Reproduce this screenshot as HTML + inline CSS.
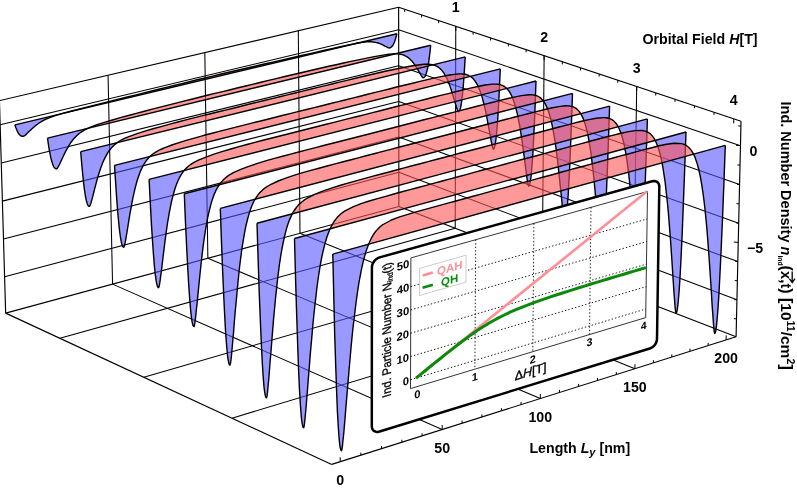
<!DOCTYPE html><html><head><meta charset="utf-8"><style>html,body{margin:0;padding:0;background:#fff}svg{will-change:transform}svg text{font-family:"Liberation Sans",sans-serif}</style></head><body><svg width="797" height="489" viewBox="0 0 797 489" style="display:block">
<rect width="797" height="489" fill="#fff"/>
<g stroke-linecap="butt"><line x1="-0.56" y1="100.64" x2="398.63" y2="7.29" stroke="#000" stroke-width="1.15" />
<line x1="398.63" y1="7.29" x2="741.02" y2="121.24" stroke="#000" stroke-width="1.15" />
<line x1="5.66" y1="313.12" x2="-0.56" y2="100.64" stroke="#000" stroke-width="1.15" />
<line x1="398.87" y1="206.46" x2="398.63" y2="7.29" stroke="#000" stroke-width="1.15" />
<line x1="736.09" y1="336.73" x2="741.02" y2="121.24" stroke="#000" stroke-width="1.15" />
<line x1="5.66" y1="313.12" x2="398.87" y2="206.46" stroke="#000" stroke-width="1.15" />
<line x1="398.87" y1="206.46" x2="736.09" y2="336.73" stroke="#000" stroke-width="1.15" />
<line x1="5.66" y1="313.12" x2="331.69" y2="464.41" stroke="#000" stroke-width="1.15" />
<line x1="331.69" y1="464.41" x2="736.09" y2="336.73" stroke="#000" stroke-width="1.15" />
<line x1="112.56" y1="284.12" x2="108.05" y2="75.25" stroke="#000" stroke-width="1.05" />
<line x1="112.56" y1="284.12" x2="442.16" y2="429.53" stroke="#000" stroke-width="1.05" />
<line x1="207.86" y1="258.27" x2="204.82" y2="52.62" stroke="#000" stroke-width="1.05" />
<line x1="207.86" y1="258.27" x2="540.32" y2="398.54" stroke="#000" stroke-width="1.05" />
<line x1="299.98" y1="233.28" x2="298.32" y2="30.75" stroke="#000" stroke-width="1.05" />
<line x1="299.98" y1="233.28" x2="634.89" y2="368.68" stroke="#000" stroke-width="1.05" />
<line x1="455.21" y1="228.22" x2="455.77" y2="26.31" stroke="#000" stroke-width="1.05" />
<line x1="59.82" y1="338.25" x2="455.21" y2="228.22" stroke="#000" stroke-width="1.05" />
<line x1="542.27" y1="261.86" x2="544.13" y2="55.71" stroke="#000" stroke-width="1.05" />
<line x1="143.77" y1="377.21" x2="542.27" y2="261.86" stroke="#000" stroke-width="1.05" />
<line x1="633.45" y1="297.08" x2="636.71" y2="86.53" stroke="#000" stroke-width="1.05" />
<line x1="231.99" y1="418.14" x2="633.45" y2="297.08" stroke="#000" stroke-width="1.05" />
<line x1="0.15" y1="124.70" x2="398.66" y2="29.82" stroke="#000" stroke-width="1.05" />
<line x1="398.66" y1="29.82" x2="740.46" y2="145.64" stroke="#000" stroke-width="1.05" />
<line x1="1.27" y1="163.02" x2="398.70" y2="65.72" stroke="#000" stroke-width="1.05" />
<line x1="398.70" y1="65.72" x2="739.57" y2="184.51" stroke="#000" stroke-width="1.05" />
<line x1="2.38" y1="201.13" x2="398.75" y2="101.43" stroke="#000" stroke-width="1.05" />
<line x1="398.75" y1="101.43" x2="738.69" y2="223.16" stroke="#000" stroke-width="1.05" />
<line x1="3.49" y1="239.04" x2="398.79" y2="136.97" stroke="#000" stroke-width="1.05" />
<line x1="398.79" y1="136.97" x2="737.81" y2="261.61" stroke="#000" stroke-width="1.05" />
<line x1="4.59" y1="276.74" x2="398.83" y2="172.33" stroke="#000" stroke-width="1.05" />
<line x1="398.83" y1="172.33" x2="736.93" y2="299.84" stroke="#000" stroke-width="1.05" /></g>
<g><path d="M14.9,124.9 15.6,124.7 16.4,124.6 17.1,124.4 17.8,124.2 18.6,124.0 19.3,123.9 20.0,123.7 20.5,123.6 21.0,123.5 21.4,123.4 21.9,123.2 22.4,123.1 22.9,123.0 23.3,122.9 23.8,122.8 24.3,122.7 24.7,122.6 25.2,122.5 25.7,122.3 26.2,122.2 27.2,122.0 28.2,121.7 29.2,121.5 30.2,121.3 31.2,121.0 32.3,120.8 33.3,120.5 34.3,120.3 35.3,120.0 36.3,119.8 37.3,119.6 38.4,119.3 39.4,119.1 40.4,118.8 41.4,118.6 42.4,118.4 43.4,118.1 44.4,117.9 45.5,117.6 46.5,117.4 47.5,117.1 48.5,116.9 49.5,116.7 50.5,116.4 51.5,116.2 52.5,115.9 53.5,115.7 54.6,115.5 55.6,115.2 56.6,115.0 57.6,114.7 58.6,114.5 59.6,114.2 60.6,114.0 61.6,113.8 62.6,113.5 63.6,113.3 71.7,111.4 79.7,109.5 87.7,107.5 95.6,105.6 103.6,103.7 111.5,101.9 119.4,100.0 127.3,98.1 135.1,96.2 143.0,94.3 150.8,92.5 158.6,90.6 166.3,88.8 174.1,86.9 181.8,85.1 189.5,83.2 197.2,81.4 204.9,79.6 212.5,77.7 220.1,75.9 227.7,74.1 235.3,72.3 242.9,70.5 250.4,68.7 257.9,66.9 265.4,65.1 272.9,63.3 280.3,61.5 287.8,59.8 295.2,58.0 302.6,56.2 310.0,54.5 317.3,52.7 324.6,51.0 332.0,49.2 339.2,47.5 346.5,45.7 353.8,44.0 354.7,43.8 355.6,43.6 356.5,43.4 357.4,43.2 358.3,42.9 359.2,42.7 360.1,42.5 361.0,42.3 361.9,42.1 362.8,41.9 363.7,41.6 364.6,41.4 365.5,41.2 366.4,41.0 367.3,40.8 368.2,40.6 369.1,40.4 370.0,40.1 370.9,39.9 371.8,39.7 372.7,39.5 373.6,39.3 374.5,39.1 375.4,38.9 376.3,38.6 377.2,38.4 378.1,38.2 379.0,38.0 379.9,37.8 380.8,37.6 381.7,37.4 382.6,37.1 383.5,36.9 384.4,36.7 385.3,36.5 386.2,36.3 387.1,36.1 387.5,36.0 387.9,35.9 388.3,35.8 388.7,35.7 389.1,35.6 389.6,35.5 390.0,35.4 390.4,35.3 390.8,35.2 391.2,35.1 391.6,35.0 392.0,34.9 392.4,34.8 393.1,34.6 393.7,34.5 394.3,34.3 395.0,34.2 395.6,34.0 396.3,33.9 396.9,33.7 L396.9,33.7 396.3,36.3 395.6,38.5 395.0,40.5 394.4,42.2 393.7,43.6 393.1,44.8 392.5,45.8 392.0,46.3 391.6,46.8 391.2,47.1 390.8,47.4 390.4,47.6 390.0,47.8 389.6,47.9 389.2,48.0 388.7,47.9 388.3,47.7 387.9,47.6 387.5,47.4 387.1,47.2 386.2,46.7 385.3,46.3 384.4,45.8 383.5,45.3 382.6,44.9 381.7,44.4 380.8,44.0 379.9,43.7 379.0,43.3 378.1,43.0 377.2,42.8 376.3,42.6 375.4,42.4 374.5,42.2 373.6,42.1 372.7,42.0 371.8,41.9 370.9,41.8 370.0,41.8 369.1,41.8 368.2,41.8 367.3,41.9 366.4,41.9 365.5,42.0 364.6,42.1 363.7,42.2 362.8,42.3 361.9,42.4 361.0,42.6 360.1,42.7 359.2,42.8 358.3,43.0 357.4,43.2 356.5,43.4 355.6,43.6 354.7,43.8 353.8,44.0 346.5,45.7 339.2,47.5 332.0,49.2 324.6,51.0 317.3,52.7 310.0,54.5 302.6,56.2 295.2,58.0 287.8,59.8 280.3,61.5 272.9,63.3 265.4,65.1 257.9,66.9 250.4,68.7 242.9,70.5 235.3,72.3 227.7,74.1 220.1,75.9 212.5,77.7 204.9,79.6 197.2,81.4 189.5,83.2 181.8,85.1 174.1,86.9 166.3,88.8 158.6,90.6 150.8,92.5 143.0,94.3 135.1,96.2 127.3,98.1 119.4,100.0 111.5,101.9 103.6,103.7 95.6,105.6 87.7,107.5 79.7,109.5 71.7,111.4 63.6,113.3 62.6,113.5 61.6,113.8 60.6,114.0 59.6,114.3 58.6,114.6 57.6,114.9 56.6,115.2 55.6,115.5 54.6,115.8 53.6,116.2 52.5,116.5 51.5,116.9 50.5,117.3 49.5,117.6 48.5,118.1 47.5,118.5 46.5,118.9 45.5,119.4 44.5,119.9 43.5,120.4 42.5,121.0 41.5,121.5 40.5,122.1 39.5,122.8 38.5,123.5 37.5,124.2 36.5,124.9 35.5,125.7 34.5,126.5 33.5,127.4 32.5,128.3 31.5,129.2 30.5,130.2 29.5,131.1 28.5,132.1 27.5,133.1 26.5,134.0 26.0,134.5 25.6,134.9 25.1,135.3 24.6,135.6 24.2,135.9 23.7,136.1 23.2,136.2 22.7,136.3 22.3,136.2 21.8,136.2 21.3,136.0 20.8,135.8 20.4,135.4 19.6,134.7 18.8,133.8 18.1,132.6 17.3,131.1 16.5,129.3 15.7,127.3 14.9,124.9 Z" fill="rgb(85,85,255)" fill-opacity="0.6" stroke="none"/><path d="M14.9,124.9 15.6,124.7 16.4,124.6 17.1,124.4 17.8,124.2 18.6,124.0 19.3,123.9 20.0,123.7 20.5,123.6 21.0,123.5 21.4,123.4 21.9,123.2 22.4,123.1 22.9,123.0 23.3,122.9 23.8,122.8 24.3,122.7 24.7,122.6 25.2,122.5 25.7,122.3 26.2,122.2 27.2,122.0 28.2,121.7 29.2,121.5 30.2,121.3 31.2,121.0 32.3,120.8 33.3,120.5 34.3,120.3 35.3,120.0 36.3,119.8 37.3,119.6 38.4,119.3 39.4,119.1 40.4,118.8 41.4,118.6 42.4,118.4 43.4,118.1 44.4,117.9 45.5,117.6 46.5,117.4 47.5,117.1 48.5,116.9 49.5,116.7 50.5,116.4 51.5,116.2 52.5,115.9 53.5,115.7 54.6,115.5 55.6,115.2 56.6,115.0 57.6,114.7 58.6,114.5 59.6,114.2 60.6,114.0 61.6,113.8 62.6,113.5 63.6,113.3 71.7,111.4 79.7,109.5 87.7,107.5 95.6,105.6 103.6,103.7 111.5,101.9 119.4,100.0 127.3,98.1 135.1,96.2 143.0,94.3 150.8,92.5 158.6,90.6 166.3,88.8 174.1,86.9 181.8,85.1 189.5,83.2 197.2,81.4 204.9,79.6 212.5,77.7 220.1,75.9 227.7,74.1 235.3,72.3 242.9,70.5 250.4,68.7 257.9,66.9 265.4,65.1 272.9,63.3 280.3,61.5 287.8,59.8 295.2,58.0 302.6,56.2 310.0,54.5 317.3,52.7 324.6,51.0 332.0,49.2 339.2,47.5 346.5,45.7 353.8,44.0 354.7,43.8 355.6,43.6 356.5,43.4 357.4,43.2 358.3,42.9 359.2,42.7 360.1,42.5 361.0,42.3 361.9,42.1 362.8,41.9 363.7,41.6 364.6,41.4 365.5,41.2 366.4,41.0 367.3,40.8 368.2,40.6 369.1,40.4 370.0,40.1 370.9,39.9 371.8,39.7 372.7,39.5 373.6,39.3 374.5,39.1 375.4,38.9 376.3,38.6 377.2,38.4 378.1,38.2 379.0,38.0 379.9,37.8 380.8,37.6 381.7,37.4 382.6,37.1 383.5,36.9 384.4,36.7 385.3,36.5 386.2,36.3 387.1,36.1 387.5,36.0 387.9,35.9 388.3,35.8 388.7,35.7 389.1,35.6 389.6,35.5 390.0,35.4 390.4,35.3 390.8,35.2 391.2,35.1 391.6,35.0 392.0,34.9 392.4,34.8 393.1,34.6 393.7,34.5 394.3,34.3 395.0,34.2 395.6,34.0 396.3,33.9 396.9,33.7 L396.9,33.7 396.3,33.9 395.6,34.0 395.0,34.2 394.3,34.3 393.7,34.5 393.1,34.6 392.4,34.8 392.0,34.9 391.6,35.0 391.2,35.1 390.8,35.2 390.4,35.3 390.0,35.4 389.6,35.5 389.1,35.6 388.7,35.7 388.3,35.8 387.9,35.9 387.5,36.0 387.1,36.1 386.2,36.3 385.3,36.5 384.4,36.7 383.5,36.9 382.6,37.1 381.7,37.4 380.8,37.6 379.9,37.8 379.0,38.0 378.1,38.2 377.2,38.4 376.3,38.6 375.4,38.9 374.5,39.1 373.6,39.3 372.7,39.5 371.8,39.7 370.9,39.9 370.0,40.1 369.1,40.4 368.2,40.6 367.3,40.8 366.4,41.0 365.5,41.2 364.6,41.4 363.7,41.6 362.8,41.9 361.9,42.1 361.0,42.3 360.1,42.5 359.2,42.7 358.3,42.9 357.4,43.2 356.5,43.3 355.6,43.5 354.7,43.7 353.8,43.9 346.5,45.4 339.2,47.0 332.0,48.6 324.6,50.3 317.3,51.9 310.0,53.6 302.6,55.3 295.2,57.0 287.8,58.7 280.3,60.4 272.9,62.1 265.4,63.8 257.9,65.5 250.4,67.3 242.9,69.0 235.3,70.8 227.7,72.5 220.1,74.3 212.5,76.1 204.9,78.0 197.2,79.8 189.5,81.7 181.8,83.6 174.1,85.5 166.3,87.4 158.6,89.3 150.8,91.2 143.0,93.1 135.1,95.1 127.3,97.0 119.4,99.0 111.5,100.9 103.6,102.9 95.6,104.9 87.6,106.9 79.7,108.9 71.6,111.0 63.6,113.1 62.6,113.4 61.6,113.7 60.6,114.0 59.6,114.2 58.6,114.5 57.6,114.7 56.6,115.0 55.6,115.2 54.6,115.5 53.5,115.7 52.5,115.9 51.5,116.2 50.5,116.4 49.5,116.7 48.5,116.9 47.5,117.1 46.5,117.4 45.5,117.6 44.4,117.9 43.4,118.1 42.4,118.4 41.4,118.6 40.4,118.8 39.4,119.1 38.4,119.3 37.3,119.6 36.3,119.8 35.3,120.0 34.3,120.3 33.3,120.5 32.3,120.8 31.2,121.0 30.2,121.3 29.2,121.5 28.2,121.7 27.2,122.0 26.2,122.2 25.7,122.3 25.2,122.5 24.7,122.6 24.3,122.7 23.8,122.8 23.3,122.9 22.9,123.0 22.4,123.1 21.9,123.2 21.4,123.4 21.0,123.5 20.5,123.6 20.0,123.7 19.3,123.9 18.6,124.0 17.8,124.2 17.1,124.4 16.4,124.6 15.6,124.7 14.9,124.9 Z" fill="rgb(255,85,85)" fill-opacity="0.6" stroke="none"/><path d="M14.9,124.9 L15.7,127.3 L16.5,129.3 L17.3,131.1 L18.1,132.6 L18.8,133.8 L19.6,134.7 L20.4,135.4 L20.8,135.8 L21.3,136.0 L21.8,136.2 L22.3,136.2 L22.7,136.3 L23.2,136.2 L23.7,136.1 L24.2,135.9 L24.6,135.6 L25.1,135.3 L25.6,134.9 L26.0,134.5 L26.5,134.0 L27.5,133.1 L28.5,132.1 L29.5,131.1 L30.5,130.2 L31.5,129.2 L32.5,128.3 L33.5,127.4 L34.5,126.5 L35.5,125.7 L36.5,124.9 L37.5,124.2 L38.5,123.5 L39.5,122.8 L40.5,122.1 L41.5,121.5 L42.5,121.0 L43.5,120.4 L44.5,119.9 L45.5,119.4 L46.5,118.9 L47.5,118.5 L48.5,118.1 L49.5,117.6 L50.5,117.3 L51.5,116.9 L52.5,116.5 L53.6,116.2 L54.6,115.8 L55.6,115.5 L56.6,115.2 L57.6,114.9 L58.6,114.6 L59.6,114.3 L60.6,114.0 L61.6,113.7 L62.6,113.4 L63.6,113.1 L71.6,111.0 L79.7,108.9 L87.6,106.9 L95.6,104.9 L103.6,102.9 L111.5,100.9 L119.4,99.0 L127.3,97.0 L135.1,95.1 L143.0,93.1 L150.8,91.2 L158.6,89.3 L166.3,87.4 L174.1,85.5 L181.8,83.6 L189.5,81.7 L197.2,79.8 L204.9,78.0 L212.5,76.1 L220.1,74.3 L227.7,72.5 L235.3,70.8 L242.9,69.0 L250.4,67.3 L257.9,65.5 L265.4,63.8 L272.9,62.1 L280.3,60.4 L287.8,58.7 L295.2,57.0 L302.6,55.3 L310.0,53.6 L317.3,51.9 L324.6,50.3 L332.0,48.6 L339.2,47.0 L346.5,45.4 L353.8,43.9 L354.7,43.7 L355.6,43.5 L356.5,43.3 L357.4,43.2 L358.3,43.0 L359.2,42.8 L360.1,42.7 L361.0,42.6 L361.9,42.4 L362.8,42.3 L363.7,42.2 L364.6,42.1 L365.5,42.0 L366.4,41.9 L367.3,41.9 L368.2,41.8 L369.1,41.8 L370.0,41.8 L370.9,41.8 L371.8,41.9 L372.7,42.0 L373.6,42.1 L374.5,42.2 L375.4,42.4 L376.3,42.6 L377.2,42.8 L378.1,43.0 L379.0,43.3 L379.9,43.7 L380.8,44.0 L381.7,44.4 L382.6,44.9 L383.5,45.3 L384.4,45.8 L385.3,46.3 L386.2,46.7 L387.1,47.2 L387.5,47.4 L387.9,47.6 L388.3,47.7 L388.7,47.9 L389.2,48.0 L389.6,47.9 L390.0,47.8 L390.4,47.6 L390.8,47.4 L391.2,47.1 L391.6,46.8 L392.0,46.3 L392.5,45.8 L393.1,44.8 L393.7,43.6 L394.4,42.2 L395.0,40.5 L395.6,38.5 L396.3,36.3 L396.9,33.7" fill="none" stroke="#000" stroke-width="1.4" stroke-linejoin="round"/><path d="M14.9,124.9 L396.9,33.7" fill="none" stroke="#000" stroke-width="1.4"/></g>
<g><path d="M47.5,138.1 48.2,138.0 48.9,137.8 49.7,137.6 50.4,137.4 51.1,137.3 51.9,137.1 52.6,136.9 53.1,136.8 53.6,136.7 54.0,136.6 54.5,136.4 55.0,136.3 55.4,136.2 55.9,136.1 56.4,136.0 56.9,135.9 57.3,135.8 57.8,135.6 58.3,135.5 58.8,135.4 59.8,135.2 60.8,134.9 61.8,134.7 62.8,134.4 63.9,134.2 64.9,133.9 65.9,133.7 66.9,133.4 68.0,133.2 69.0,132.9 70.0,132.7 71.0,132.4 72.0,132.2 73.0,131.9 74.1,131.7 75.1,131.5 76.1,131.2 77.1,131.0 78.1,130.7 79.1,130.5 80.2,130.2 81.2,130.0 82.2,129.7 83.2,129.5 84.2,129.2 85.2,129.0 86.3,128.7 87.3,128.5 88.3,128.3 89.3,128.0 90.3,127.8 91.3,127.5 92.3,127.3 93.3,127.0 94.3,126.8 95.4,126.5 96.4,126.3 104.4,124.3 112.5,122.4 120.5,120.4 128.5,118.5 136.5,116.6 144.4,114.6 152.4,112.7 160.3,110.8 168.2,108.9 176.0,107.0 183.9,105.1 191.7,103.2 199.5,101.3 207.2,99.4 215.0,97.5 222.7,95.7 230.4,93.8 238.1,91.9 245.8,90.1 253.4,88.2 261.1,86.4 268.7,84.5 276.3,82.7 283.8,80.8 291.4,79.0 298.9,77.2 306.4,75.4 313.8,73.6 321.3,71.8 328.7,70.0 336.2,68.2 343.5,66.4 350.9,64.6 358.3,62.8 365.6,61.0 372.9,59.2 380.2,57.5 387.5,55.7 388.4,55.5 389.3,55.3 390.2,55.1 391.1,54.8 392.0,54.6 392.9,54.4 393.8,54.2 394.8,54.0 395.7,53.7 396.6,53.5 397.5,53.3 398.4,53.1 399.3,52.9 400.2,52.6 401.1,52.4 402.0,52.2 402.9,52.0 403.8,51.8 404.7,51.5 405.6,51.3 406.5,51.1 407.4,50.9 408.3,50.7 409.2,50.5 410.1,50.2 411.0,50.0 411.9,49.8 412.8,49.6 413.7,49.4 414.6,49.1 415.5,48.9 416.4,48.7 417.3,48.5 418.2,48.3 419.1,48.1 420.0,47.8 420.9,47.6 421.3,47.5 421.7,47.4 422.1,47.3 422.5,47.2 423.0,47.1 423.4,47.0 423.8,46.9 424.2,46.8 424.6,46.7 425.0,46.6 425.4,46.5 425.8,46.4 426.3,46.3 426.9,46.2 427.5,46.0 428.2,45.9 428.8,45.7 429.5,45.5 430.1,45.4 430.7,45.2 L430.7,45.2 430.1,51.3 429.4,56.6 428.8,61.3 428.2,65.2 427.5,68.6 426.9,71.3 426.2,73.5 425.8,74.7 425.4,75.6 425.0,76.3 424.6,76.9 424.2,77.3 423.8,77.6 423.4,77.7 422.9,77.6 422.5,77.3 422.1,76.8 421.7,76.2 421.3,75.6 420.9,74.9 420.0,73.4 419.1,71.9 418.2,70.4 417.3,68.8 416.4,67.4 415.5,66.0 414.6,64.6 413.7,63.4 412.8,62.2 411.9,61.1 411.0,60.2 410.1,59.3 409.2,58.5 408.3,57.7 407.4,57.1 406.5,56.5 405.6,56.0 404.7,55.6 403.8,55.2 402.9,54.9 402.0,54.6 401.1,54.4 400.2,54.2 399.3,54.1 398.4,54.0 397.5,53.9 396.6,53.8 395.7,53.8 394.8,54.0 393.8,54.2 392.9,54.4 392.0,54.6 391.1,54.8 390.2,55.1 389.3,55.3 388.4,55.5 387.5,55.7 380.2,57.5 372.9,59.2 365.6,61.0 358.3,62.8 350.9,64.6 343.5,66.4 336.2,68.2 328.7,70.0 321.3,71.8 313.8,73.6 306.4,75.4 298.9,77.2 291.4,79.0 283.8,80.8 276.3,82.7 268.7,84.5 261.1,86.4 253.4,88.2 245.8,90.1 238.1,91.9 230.4,93.8 222.7,95.7 215.0,97.5 207.2,99.4 199.5,101.3 191.7,103.2 183.9,105.1 176.0,107.0 168.2,108.9 160.3,110.8 152.4,112.7 144.4,114.6 136.5,116.6 128.5,118.5 120.5,120.4 112.5,122.4 104.4,124.3 96.4,126.3 95.4,126.5 94.3,126.8 93.3,127.0 92.3,127.3 91.3,127.5 90.3,127.8 89.3,128.0 88.3,128.3 87.3,128.6 86.3,129.1 85.3,129.6 84.2,130.2 83.2,130.8 82.2,131.4 81.2,132.1 80.2,132.8 79.2,133.5 78.2,134.4 77.2,135.2 76.2,136.2 75.2,137.2 74.2,138.3 73.2,139.4 72.2,140.7 71.2,142.0 70.3,143.4 69.3,144.9 68.3,146.6 67.3,148.3 66.3,150.1 65.3,152.0 64.4,153.9 63.4,156.0 62.4,158.1 61.4,160.2 60.5,162.3 59.5,164.4 59.0,165.3 58.6,166.2 58.1,167.0 57.7,167.8 57.2,168.4 56.7,168.7 56.3,168.8 55.8,168.7 55.3,168.5 54.8,168.1 54.3,167.6 53.8,166.8 53.3,165.8 52.6,163.9 51.8,161.3 50.9,158.1 50.1,154.2 49.2,149.6 48.4,144.3 47.5,138.1 Z" fill="rgb(85,85,255)" fill-opacity="0.6" stroke="none"/><path d="M47.5,138.1 48.2,138.0 48.9,137.8 49.7,137.6 50.4,137.4 51.1,137.3 51.9,137.1 52.6,136.9 53.1,136.8 53.6,136.7 54.0,136.6 54.5,136.4 55.0,136.3 55.4,136.2 55.9,136.1 56.4,136.0 56.9,135.9 57.3,135.8 57.8,135.6 58.3,135.5 58.8,135.4 59.8,135.2 60.8,134.9 61.8,134.7 62.8,134.4 63.9,134.2 64.9,133.9 65.9,133.7 66.9,133.4 68.0,133.2 69.0,132.9 70.0,132.7 71.0,132.4 72.0,132.2 73.0,131.9 74.1,131.7 75.1,131.5 76.1,131.2 77.1,131.0 78.1,130.7 79.1,130.5 80.2,130.2 81.2,130.0 82.2,129.7 83.2,129.5 84.2,129.2 85.2,129.0 86.3,128.7 87.3,128.5 88.3,128.3 89.3,128.0 90.3,127.8 91.3,127.5 92.3,127.3 93.3,127.0 94.3,126.8 95.4,126.5 96.4,126.3 104.4,124.3 112.5,122.4 120.5,120.4 128.5,118.5 136.5,116.6 144.4,114.6 152.4,112.7 160.3,110.8 168.2,108.9 176.0,107.0 183.9,105.1 191.7,103.2 199.5,101.3 207.2,99.4 215.0,97.5 222.7,95.7 230.4,93.8 238.1,91.9 245.8,90.1 253.4,88.2 261.1,86.4 268.7,84.5 276.3,82.7 283.8,80.8 291.4,79.0 298.9,77.2 306.4,75.4 313.8,73.6 321.3,71.8 328.7,70.0 336.2,68.2 343.5,66.4 350.9,64.6 358.3,62.8 365.6,61.0 372.9,59.2 380.2,57.5 387.5,55.7 388.4,55.5 389.3,55.3 390.2,55.1 391.1,54.8 392.0,54.6 392.9,54.4 393.8,54.2 394.8,54.0 395.7,53.7 396.6,53.5 397.5,53.3 398.4,53.1 399.3,52.9 400.2,52.6 401.1,52.4 402.0,52.2 402.9,52.0 403.8,51.8 404.7,51.5 405.6,51.3 406.5,51.1 407.4,50.9 408.3,50.7 409.2,50.5 410.1,50.2 411.0,50.0 411.9,49.8 412.8,49.6 413.7,49.4 414.6,49.1 415.5,48.9 416.4,48.7 417.3,48.5 418.2,48.3 419.1,48.1 420.0,47.8 420.9,47.6 421.3,47.5 421.7,47.4 422.1,47.3 422.5,47.2 423.0,47.1 423.4,47.0 423.8,46.9 424.2,46.8 424.6,46.7 425.0,46.6 425.4,46.5 425.8,46.4 426.3,46.3 426.9,46.2 427.5,46.0 428.2,45.9 428.8,45.7 429.5,45.5 430.1,45.4 430.7,45.2 L430.7,45.2 430.1,45.4 429.5,45.5 428.8,45.7 428.2,45.9 427.5,46.0 426.9,46.2 426.3,46.3 425.8,46.4 425.4,46.5 425.0,46.6 424.6,46.7 424.2,46.8 423.8,46.9 423.4,47.0 423.0,47.1 422.5,47.2 422.1,47.3 421.7,47.4 421.3,47.5 420.9,47.6 420.0,47.8 419.1,48.1 418.2,48.3 417.3,48.5 416.4,48.7 415.5,48.9 414.6,49.1 413.7,49.4 412.8,49.6 411.9,49.8 411.0,50.0 410.1,50.2 409.2,50.5 408.3,50.7 407.4,50.9 406.5,51.1 405.6,51.3 404.7,51.5 403.8,51.8 402.9,52.0 402.0,52.2 401.1,52.4 400.2,52.6 399.3,52.9 398.4,53.1 397.5,53.3 396.6,53.5 395.7,53.7 394.8,53.8 393.8,53.8 392.9,53.9 392.0,53.9 391.1,54.0 390.2,54.1 389.3,54.2 388.4,54.3 387.5,54.4 380.2,55.6 372.9,56.9 365.6,58.4 358.3,59.9 350.9,61.4 343.5,63.0 336.1,64.7 328.7,66.3 321.3,68.0 313.8,69.7 306.3,71.5 298.8,73.3 291.3,75.0 283.8,76.8 276.2,78.6 268.6,80.4 261.0,82.3 253.4,84.1 245.7,86.0 238.1,87.8 230.4,89.7 222.7,91.6 214.9,93.4 207.2,95.3 199.4,97.2 191.6,99.2 183.8,101.1 176.0,103.1 168.1,105.1 160.2,107.1 152.3,109.1 144.4,111.2 136.4,113.3 128.4,115.5 120.4,117.7 112.4,120.0 104.4,122.3 96.3,124.9 95.3,125.3 94.3,125.7 93.3,126.0 92.3,126.4 91.3,126.8 90.3,127.2 89.3,127.7 88.3,128.1 87.3,128.5 86.3,128.7 85.2,129.0 84.2,129.2 83.2,129.5 82.2,129.7 81.2,130.0 80.2,130.2 79.1,130.5 78.1,130.7 77.1,131.0 76.1,131.2 75.1,131.5 74.1,131.7 73.0,131.9 72.0,132.2 71.0,132.4 70.0,132.7 69.0,132.9 68.0,133.2 66.9,133.4 65.9,133.7 64.9,133.9 63.9,134.2 62.8,134.4 61.8,134.7 60.8,134.9 59.8,135.2 58.8,135.4 58.3,135.5 57.8,135.6 57.3,135.8 56.9,135.9 56.4,136.0 55.9,136.1 55.4,136.2 55.0,136.3 54.5,136.4 54.0,136.6 53.6,136.7 53.1,136.8 52.6,136.9 51.9,137.1 51.1,137.3 50.4,137.4 49.7,137.6 48.9,137.8 48.2,138.0 47.5,138.1 Z" fill="rgb(255,85,85)" fill-opacity="0.6" stroke="none"/><path d="M47.5,138.1 L48.4,144.3 L49.2,149.6 L50.1,154.2 L50.9,158.1 L51.8,161.3 L52.6,163.9 L53.3,165.8 L53.8,166.8 L54.3,167.6 L54.8,168.1 L55.3,168.5 L55.8,168.7 L56.3,168.8 L56.7,168.7 L57.2,168.4 L57.7,167.8 L58.1,167.0 L58.6,166.2 L59.0,165.3 L59.5,164.4 L60.5,162.3 L61.4,160.2 L62.4,158.1 L63.4,156.0 L64.4,153.9 L65.3,152.0 L66.3,150.1 L67.3,148.3 L68.3,146.6 L69.3,144.9 L70.3,143.4 L71.2,142.0 L72.2,140.7 L73.2,139.4 L74.2,138.3 L75.2,137.2 L76.2,136.2 L77.2,135.2 L78.2,134.4 L79.2,133.5 L80.2,132.8 L81.2,132.1 L82.2,131.4 L83.2,130.8 L84.2,130.2 L85.3,129.6 L86.3,129.1 L87.3,128.6 L88.3,128.1 L89.3,127.7 L90.3,127.2 L91.3,126.8 L92.3,126.4 L93.3,126.0 L94.3,125.7 L95.3,125.3 L96.3,124.9 L104.4,122.3 L112.4,120.0 L120.4,117.7 L128.4,115.5 L136.4,113.3 L144.4,111.2 L152.3,109.1 L160.2,107.1 L168.1,105.1 L176.0,103.1 L183.8,101.1 L191.6,99.2 L199.4,97.2 L207.2,95.3 L214.9,93.4 L222.7,91.6 L230.4,89.7 L238.1,87.8 L245.7,86.0 L253.4,84.1 L261.0,82.3 L268.6,80.4 L276.2,78.6 L283.8,76.8 L291.3,75.0 L298.8,73.3 L306.3,71.5 L313.8,69.7 L321.3,68.0 L328.7,66.3 L336.1,64.7 L343.5,63.0 L350.9,61.4 L358.3,59.9 L365.6,58.4 L372.9,56.9 L380.2,55.6 L387.5,54.4 L388.4,54.3 L389.3,54.2 L390.2,54.1 L391.1,54.0 L392.0,53.9 L392.9,53.9 L393.8,53.8 L394.8,53.8 L395.7,53.8 L396.6,53.8 L397.5,53.9 L398.4,54.0 L399.3,54.1 L400.2,54.2 L401.1,54.4 L402.0,54.6 L402.9,54.9 L403.8,55.2 L404.7,55.6 L405.6,56.0 L406.5,56.5 L407.4,57.1 L408.3,57.7 L409.2,58.5 L410.1,59.3 L411.0,60.2 L411.9,61.1 L412.8,62.2 L413.7,63.4 L414.6,64.6 L415.5,66.0 L416.4,67.4 L417.3,68.8 L418.2,70.4 L419.1,71.9 L420.0,73.4 L420.9,74.9 L421.3,75.6 L421.7,76.2 L422.1,76.8 L422.5,77.3 L422.9,77.6 L423.4,77.7 L423.8,77.6 L424.2,77.3 L424.6,76.9 L425.0,76.3 L425.4,75.6 L425.8,74.7 L426.2,73.5 L426.9,71.3 L427.5,68.6 L428.2,65.2 L428.8,61.3 L429.4,56.6 L430.1,51.3 L430.7,45.2" fill="none" stroke="#000" stroke-width="1.4" stroke-linejoin="round"/><path d="M47.5,138.1 L430.7,45.2" fill="none" stroke="#000" stroke-width="1.4"/></g>
<g><path d="M80.7,151.6 81.4,151.5 82.1,151.3 82.9,151.1 83.6,150.9 84.4,150.7 85.1,150.5 85.8,150.4 86.3,150.2 86.8,150.1 87.3,150.0 87.7,149.9 88.2,149.8 88.7,149.7 89.2,149.5 89.6,149.4 90.1,149.3 90.6,149.2 91.1,149.1 91.5,149.0 92.0,148.8 93.0,148.6 94.1,148.3 95.1,148.1 96.1,147.8 97.1,147.6 98.2,147.3 99.2,147.1 100.2,146.8 101.2,146.6 102.3,146.3 103.3,146.1 104.3,145.8 105.3,145.6 106.3,145.3 107.4,145.1 108.4,144.8 109.4,144.6 110.4,144.3 111.5,144.1 112.5,143.8 113.5,143.6 114.5,143.3 115.5,143.1 116.6,142.8 117.6,142.6 118.6,142.3 119.6,142.0 120.6,141.8 121.6,141.5 122.7,141.3 123.7,141.0 124.7,140.8 125.7,140.5 126.7,140.3 127.7,140.0 128.7,139.8 129.8,139.5 137.9,137.6 145.9,135.6 154.0,133.6 162.0,131.6 170.0,129.6 178.0,127.7 186.0,125.7 193.9,123.8 201.8,121.8 209.7,119.9 217.6,117.9 225.4,116.0 233.2,114.1 241.0,112.1 248.8,110.2 256.6,108.3 264.3,106.4 272.0,104.5 279.7,102.6 287.4,100.7 295.0,98.9 302.7,97.0 310.3,95.1 317.8,93.2 325.4,91.4 333.0,89.5 340.5,87.7 348.0,85.8 355.5,84.0 362.9,82.1 370.3,80.3 377.8,78.5 385.2,76.7 392.5,74.8 399.9,73.0 407.2,71.2 414.5,69.4 421.8,67.6 422.7,67.4 423.7,67.2 424.6,67.0 425.5,66.7 426.4,66.5 427.3,66.3 428.2,66.1 429.1,65.8 430.0,65.6 430.9,65.4 431.8,65.2 432.7,64.9 433.6,64.7 434.6,64.5 435.5,64.3 436.4,64.0 437.3,63.8 438.2,63.6 439.1,63.4 440.0,63.2 440.9,62.9 441.8,62.7 442.7,62.5 443.6,62.3 444.5,62.0 445.4,61.8 446.3,61.6 447.2,61.4 448.1,61.2 449.0,60.9 449.9,60.7 450.8,60.5 451.7,60.3 452.6,60.0 453.5,59.8 454.4,59.6 455.3,59.4 455.7,59.3 456.1,59.2 456.6,59.1 457.0,59.0 457.4,58.9 457.8,58.8 458.2,58.7 458.6,58.6 459.1,58.5 459.5,58.4 459.9,58.3 460.3,58.2 460.7,58.1 461.3,57.9 462.0,57.7 462.6,57.6 463.3,57.4 463.9,57.3 464.6,57.1 465.2,56.9 L465.2,56.9 464.5,68.6 463.8,78.7 463.2,87.3 462.5,94.3 461.9,100.0 461.2,104.5 460.6,107.7 460.1,109.3 459.7,110.4 459.3,111.1 458.9,111.6 458.5,111.8 458.1,111.4 457.7,110.6 457.2,109.5 456.8,108.3 456.4,107.1 456.0,105.8 455.6,104.4 455.2,103.0 454.3,100.0 453.4,97.0 452.5,94.0 451.6,91.1 450.7,88.4 449.9,85.9 449.0,83.5 448.1,81.3 447.2,79.2 446.3,77.3 445.4,75.6 444.5,74.1 443.6,72.7 442.7,71.5 441.8,70.4 440.9,69.4 440.0,68.5 439.1,67.8 438.2,67.1 437.3,66.6 436.4,66.1 435.5,65.7 434.6,65.3 433.6,65.0 432.7,64.9 431.8,65.2 430.9,65.4 430.0,65.6 429.1,65.8 428.2,66.1 427.3,66.3 426.4,66.5 425.5,66.7 424.6,67.0 423.7,67.2 422.7,67.4 421.8,67.6 414.5,69.4 407.2,71.2 399.9,73.0 392.5,74.8 385.2,76.7 377.8,78.5 370.3,80.3 362.9,82.1 355.5,84.0 348.0,85.8 340.5,87.7 333.0,89.5 325.4,91.4 317.8,93.2 310.3,95.1 302.7,97.0 295.0,98.9 287.4,100.7 279.7,102.6 272.0,104.5 264.3,106.4 256.6,108.3 248.8,110.2 241.0,112.1 233.2,114.1 225.4,116.0 217.6,117.9 209.7,119.9 201.8,121.8 193.9,123.8 186.0,125.7 178.0,127.7 170.0,129.6 162.0,131.6 154.0,133.6 145.9,135.6 137.9,137.6 129.8,139.5 128.7,139.8 127.7,140.0 126.7,140.3 125.7,140.5 124.7,140.8 123.7,141.0 122.7,141.3 121.6,141.5 120.6,141.8 119.6,142.0 118.6,142.3 117.6,142.6 116.6,143.1 115.6,143.9 114.5,144.8 113.5,145.7 112.5,146.7 111.5,147.8 110.5,149.0 109.5,150.3 108.5,151.6 107.5,153.2 106.6,154.8 105.6,156.6 104.6,158.6 103.6,160.7 102.6,163.0 101.7,165.5 100.7,168.1 99.7,171.0 98.8,174.0 97.8,177.2 96.8,180.6 95.9,184.1 94.9,187.8 94.0,191.5 93.1,195.2 92.6,196.9 92.2,198.6 91.7,200.2 91.3,201.8 90.9,203.3 90.4,204.6 90.0,205.7 89.5,206.4 89.0,206.4 88.6,206.2 88.1,205.6 87.6,204.6 87.1,203.2 86.2,200.1 85.4,195.8 84.5,190.0 83.6,182.9 82.7,174.1 81.7,163.7 80.7,151.6 Z" fill="rgb(85,85,255)" fill-opacity="0.6" stroke="none"/><path d="M80.7,151.6 81.4,151.5 82.1,151.3 82.9,151.1 83.6,150.9 84.4,150.7 85.1,150.5 85.8,150.4 86.3,150.2 86.8,150.1 87.3,150.0 87.7,149.9 88.2,149.8 88.7,149.7 89.2,149.5 89.6,149.4 90.1,149.3 90.6,149.2 91.1,149.1 91.5,149.0 92.0,148.8 93.0,148.6 94.1,148.3 95.1,148.1 96.1,147.8 97.1,147.6 98.2,147.3 99.2,147.1 100.2,146.8 101.2,146.6 102.3,146.3 103.3,146.1 104.3,145.8 105.3,145.6 106.3,145.3 107.4,145.1 108.4,144.8 109.4,144.6 110.4,144.3 111.5,144.1 112.5,143.8 113.5,143.6 114.5,143.3 115.5,143.1 116.6,142.8 117.6,142.6 118.6,142.3 119.6,142.0 120.6,141.8 121.6,141.5 122.7,141.3 123.7,141.0 124.7,140.8 125.7,140.5 126.7,140.3 127.7,140.0 128.7,139.8 129.8,139.5 137.9,137.6 145.9,135.6 154.0,133.6 162.0,131.6 170.0,129.6 178.0,127.7 186.0,125.7 193.9,123.8 201.8,121.8 209.7,119.9 217.6,117.9 225.4,116.0 233.2,114.1 241.0,112.1 248.8,110.2 256.6,108.3 264.3,106.4 272.0,104.5 279.7,102.6 287.4,100.7 295.0,98.9 302.7,97.0 310.3,95.1 317.8,93.2 325.4,91.4 333.0,89.5 340.5,87.7 348.0,85.8 355.5,84.0 362.9,82.1 370.3,80.3 377.8,78.5 385.2,76.7 392.5,74.8 399.9,73.0 407.2,71.2 414.5,69.4 421.8,67.6 422.7,67.4 423.7,67.2 424.6,67.0 425.5,66.7 426.4,66.5 427.3,66.3 428.2,66.1 429.1,65.8 430.0,65.6 430.9,65.4 431.8,65.2 432.7,64.9 433.6,64.7 434.6,64.5 435.5,64.3 436.4,64.0 437.3,63.8 438.2,63.6 439.1,63.4 440.0,63.2 440.9,62.9 441.8,62.7 442.7,62.5 443.6,62.3 444.5,62.0 445.4,61.8 446.3,61.6 447.2,61.4 448.1,61.2 449.0,60.9 449.9,60.7 450.8,60.5 451.7,60.3 452.6,60.0 453.5,59.8 454.4,59.6 455.3,59.4 455.7,59.3 456.1,59.2 456.6,59.1 457.0,59.0 457.4,58.9 457.8,58.8 458.2,58.7 458.6,58.6 459.1,58.5 459.5,58.4 459.9,58.3 460.3,58.2 460.7,58.1 461.3,57.9 462.0,57.7 462.6,57.6 463.3,57.4 463.9,57.3 464.6,57.1 465.2,56.9 L465.2,56.9 464.6,57.1 463.9,57.3 463.3,57.4 462.6,57.6 462.0,57.7 461.3,57.9 460.7,58.1 460.3,58.2 459.9,58.3 459.5,58.4 459.1,58.5 458.6,58.6 458.2,58.7 457.8,58.8 457.4,58.9 457.0,59.0 456.6,59.1 456.1,59.2 455.7,59.3 455.3,59.4 454.4,59.6 453.5,59.8 452.6,60.0 451.7,60.3 450.8,60.5 449.9,60.7 449.0,60.9 448.1,61.2 447.2,61.4 446.3,61.6 445.4,61.8 444.5,62.0 443.6,62.3 442.7,62.5 441.8,62.7 440.9,62.9 440.0,63.2 439.1,63.4 438.2,63.6 437.3,63.8 436.4,64.0 435.5,64.3 434.6,64.5 433.6,64.7 432.7,64.8 431.8,64.6 430.9,64.5 430.0,64.4 429.1,64.3 428.2,64.2 427.3,64.2 426.4,64.2 425.5,64.2 424.6,64.3 423.7,64.3 422.7,64.4 421.8,64.5 414.5,65.5 407.2,66.7 399.9,68.2 392.5,69.7 385.1,71.3 377.8,73.0 370.3,74.7 362.9,76.5 355.4,78.3 347.9,80.1 340.4,81.9 332.9,83.7 325.4,85.6 317.8,87.4 310.2,89.3 302.6,91.1 295.0,93.0 287.3,94.9 279.7,96.8 272.0,98.6 264.2,100.5 256.5,102.4 248.7,104.3 241.0,106.2 233.2,108.2 225.3,110.1 217.5,112.0 209.6,114.0 201.7,115.9 193.8,117.9 185.9,119.9 177.9,122.0 169.9,124.1 161.9,126.3 153.9,128.5 145.8,130.9 137.8,133.4 129.7,136.3 128.7,136.7 127.7,137.1 126.7,137.5 125.6,137.9 124.6,138.4 123.6,138.9 122.6,139.4 121.6,139.9 120.6,140.5 119.6,141.1 118.6,141.7 117.6,142.4 116.6,142.8 115.5,143.1 114.5,143.3 113.5,143.6 112.5,143.8 111.5,144.1 110.4,144.3 109.4,144.6 108.4,144.8 107.4,145.1 106.3,145.3 105.3,145.6 104.3,145.8 103.3,146.1 102.3,146.3 101.2,146.6 100.2,146.8 99.2,147.1 98.2,147.3 97.1,147.6 96.1,147.8 95.1,148.1 94.1,148.3 93.0,148.6 92.0,148.8 91.5,149.0 91.1,149.1 90.6,149.2 90.1,149.3 89.6,149.4 89.2,149.5 88.7,149.7 88.2,149.8 87.7,149.9 87.3,150.0 86.8,150.1 86.3,150.2 85.8,150.4 85.1,150.5 84.4,150.7 83.6,150.9 82.9,151.1 82.1,151.3 81.4,151.5 80.7,151.6 Z" fill="rgb(255,85,85)" fill-opacity="0.6" stroke="none"/><path d="M80.7,151.6 L81.7,163.7 L82.7,174.1 L83.6,182.9 L84.5,190.0 L85.4,195.8 L86.2,200.1 L87.1,203.2 L87.6,204.6 L88.1,205.6 L88.6,206.2 L89.0,206.4 L89.5,206.4 L90.0,205.7 L90.4,204.6 L90.9,203.3 L91.3,201.8 L91.7,200.2 L92.2,198.6 L92.6,196.9 L93.1,195.2 L94.0,191.5 L94.9,187.8 L95.9,184.1 L96.8,180.6 L97.8,177.2 L98.8,174.0 L99.7,171.0 L100.7,168.1 L101.7,165.5 L102.6,163.0 L103.6,160.7 L104.6,158.6 L105.6,156.6 L106.6,154.8 L107.5,153.2 L108.5,151.6 L109.5,150.3 L110.5,149.0 L111.5,147.8 L112.5,146.7 L113.5,145.7 L114.5,144.8 L115.6,143.9 L116.6,143.1 L117.6,142.4 L118.6,141.7 L119.6,141.1 L120.6,140.5 L121.6,139.9 L122.6,139.4 L123.6,138.9 L124.6,138.4 L125.6,137.9 L126.7,137.5 L127.7,137.1 L128.7,136.7 L129.7,136.3 L137.8,133.4 L145.8,130.9 L153.9,128.5 L161.9,126.3 L169.9,124.1 L177.9,122.0 L185.9,119.9 L193.8,117.9 L201.7,115.9 L209.6,114.0 L217.5,112.0 L225.3,110.1 L233.2,108.2 L241.0,106.2 L248.7,104.3 L256.5,102.4 L264.2,100.5 L272.0,98.6 L279.7,96.8 L287.3,94.9 L295.0,93.0 L302.6,91.1 L310.2,89.3 L317.8,87.4 L325.4,85.6 L332.9,83.7 L340.4,81.9 L347.9,80.1 L355.4,78.3 L362.9,76.5 L370.3,74.7 L377.8,73.0 L385.1,71.3 L392.5,69.7 L399.9,68.2 L407.2,66.7 L414.5,65.5 L421.8,64.5 L422.7,64.4 L423.7,64.3 L424.6,64.3 L425.5,64.2 L426.4,64.2 L427.3,64.2 L428.2,64.2 L429.1,64.3 L430.0,64.4 L430.9,64.5 L431.8,64.6 L432.7,64.8 L433.6,65.0 L434.6,65.3 L435.5,65.7 L436.4,66.1 L437.3,66.6 L438.2,67.1 L439.1,67.8 L440.0,68.5 L440.9,69.4 L441.8,70.4 L442.7,71.5 L443.6,72.7 L444.5,74.1 L445.4,75.6 L446.3,77.3 L447.2,79.2 L448.1,81.3 L449.0,83.5 L449.9,85.9 L450.7,88.4 L451.6,91.1 L452.5,94.0 L453.4,97.0 L454.3,100.0 L455.2,103.0 L455.6,104.4 L456.0,105.8 L456.4,107.1 L456.8,108.3 L457.2,109.5 L457.7,110.6 L458.1,111.4 L458.5,111.8 L458.9,111.6 L459.3,111.1 L459.7,110.4 L460.1,109.3 L460.6,107.7 L461.2,104.5 L461.9,100.0 L462.5,94.3 L463.2,87.3 L463.8,78.7 L464.5,68.6 L465.2,56.9" fill="none" stroke="#000" stroke-width="1.4" stroke-linejoin="round"/><path d="M80.7,151.6 L465.2,56.9" fill="none" stroke="#000" stroke-width="1.4"/></g>
<g><path d="M114.5,165.4 115.3,165.2 116.0,165.0 116.8,164.8 117.5,164.7 118.2,164.5 119.0,164.3 119.7,164.1 120.2,164.0 120.7,163.9 121.1,163.7 121.6,163.6 122.1,163.5 122.6,163.4 123.0,163.3 123.5,163.1 124.0,163.0 124.5,162.9 125.0,162.8 125.4,162.7 125.9,162.6 126.9,162.3 128.0,162.0 129.0,161.8 130.0,161.5 131.1,161.3 132.1,161.0 133.1,160.7 134.1,160.5 135.2,160.2 136.2,160.0 137.2,159.7 138.3,159.5 139.3,159.2 140.3,158.9 141.3,158.7 142.4,158.4 143.4,158.2 144.4,157.9 145.4,157.7 146.5,157.4 147.5,157.2 148.5,156.9 149.5,156.6 150.6,156.4 151.6,156.1 152.6,155.9 153.6,155.6 154.6,155.4 155.7,155.1 156.7,154.9 157.7,154.6 158.7,154.3 159.7,154.1 160.8,153.8 161.8,153.6 162.8,153.3 163.8,153.1 171.9,151.0 180.0,149.0 188.1,147.0 196.2,145.0 204.2,143.0 212.2,141.0 220.2,139.0 228.2,137.0 236.1,135.0 244.0,133.0 251.9,131.0 259.8,129.1 267.7,127.1 275.5,125.1 283.3,123.2 291.1,121.2 298.8,119.3 306.6,117.4 314.3,115.4 322.0,113.5 329.6,111.6 337.3,109.7 344.9,107.8 352.5,105.9 360.1,104.0 367.7,102.1 375.2,100.2 382.7,98.3 390.3,96.4 397.7,94.5 405.2,92.7 412.6,90.8 420.0,89.0 427.4,87.1 434.8,85.3 442.2,83.4 449.5,81.6 456.8,79.8 457.7,79.5 458.6,79.3 459.6,79.1 460.5,78.8 461.4,78.6 462.3,78.4 463.2,78.2 464.1,77.9 465.0,77.7 465.9,77.5 466.8,77.3 467.8,77.0 468.7,76.8 469.6,76.6 470.5,76.3 471.4,76.1 472.3,75.9 473.2,75.7 474.1,75.4 475.0,75.2 475.9,75.0 476.8,74.8 477.7,74.5 478.6,74.3 479.6,74.1 480.5,73.8 481.4,73.6 482.3,73.4 483.2,73.2 484.1,72.9 485.0,72.7 485.9,72.5 486.8,72.3 487.7,72.0 488.6,71.8 489.5,71.6 490.4,71.4 490.8,71.3 491.2,71.2 491.6,71.0 492.1,70.9 492.5,70.8 492.9,70.7 493.3,70.6 493.7,70.5 494.1,70.4 494.5,70.3 495.0,70.2 495.4,70.1 495.8,70.0 496.4,69.8 497.1,69.7 497.7,69.5 498.4,69.4 499.0,69.2 499.6,69.0 500.3,68.9 L500.3,68.9 499.5,86.1 498.8,100.9 498.1,113.5 497.4,123.8 496.7,132.2 496.0,138.7 495.4,143.4 495.0,145.6 494.5,147.2 494.1,148.3 493.7,148.9 493.3,149.2 492.9,148.5 492.5,147.1 492.1,145.4 491.7,143.5 491.3,141.5 490.9,139.3 490.5,137.2 490.1,134.9 489.2,130.1 488.3,125.2 487.4,120.5 486.6,116.0 485.7,111.7 484.8,107.7 483.9,104.0 483.0,100.5 482.2,97.4 481.3,94.5 480.4,91.9 479.5,89.5 478.6,87.4 477.7,85.5 476.8,83.8 475.9,82.3 475.0,81.0 474.1,79.8 473.2,78.8 472.3,77.9 471.4,77.2 470.5,76.5 469.6,76.6 468.7,76.8 467.8,77.0 466.8,77.3 465.9,77.5 465.0,77.7 464.1,77.9 463.2,78.2 462.3,78.4 461.4,78.6 460.5,78.8 459.6,79.1 458.6,79.3 457.7,79.5 456.8,79.8 449.5,81.6 442.2,83.4 434.8,85.3 427.4,87.1 420.0,89.0 412.6,90.8 405.2,92.7 397.7,94.5 390.3,96.4 382.7,98.3 375.2,100.2 367.7,102.1 360.1,104.0 352.5,105.9 344.9,107.8 337.3,109.7 329.6,111.6 322.0,113.5 314.3,115.4 306.6,117.4 298.8,119.3 291.1,121.2 283.3,123.2 275.5,125.1 267.7,127.1 259.8,129.1 251.9,131.0 244.0,133.0 236.1,135.0 228.2,137.0 220.2,139.0 212.2,141.0 204.2,143.0 196.2,145.0 188.1,147.0 180.0,149.0 171.9,151.0 163.8,153.1 162.8,153.3 161.8,153.6 160.8,153.8 159.7,154.1 158.7,154.3 157.7,154.6 156.7,154.9 155.7,155.1 154.6,155.4 153.6,155.6 152.6,155.9 151.6,156.1 150.6,156.4 149.5,157.0 148.5,158.0 147.5,159.2 146.5,160.4 145.5,161.8 144.5,163.3 143.5,165.0 142.5,166.9 141.5,168.9 140.5,171.1 139.6,173.6 138.6,176.3 137.6,179.3 136.6,182.5 135.7,186.0 134.7,189.8 133.8,193.9 132.8,198.3 131.9,203.1 131.0,208.1 130.0,213.3 129.1,218.8 128.2,224.5 127.3,230.1 126.9,232.7 126.4,235.3 126.0,237.8 125.6,240.1 125.2,242.4 124.7,244.5 124.3,246.2 123.8,247.2 123.4,247.1 122.9,246.7 122.4,245.8 121.9,244.3 121.3,242.2 120.5,237.5 119.6,231.0 118.7,222.5 117.7,211.8 116.7,198.8 115.7,183.4 114.5,165.4 Z" fill="rgb(85,85,255)" fill-opacity="0.6" stroke="none"/><path d="M114.5,165.4 115.3,165.2 116.0,165.0 116.8,164.8 117.5,164.7 118.2,164.5 119.0,164.3 119.7,164.1 120.2,164.0 120.7,163.9 121.1,163.7 121.6,163.6 122.1,163.5 122.6,163.4 123.0,163.3 123.5,163.1 124.0,163.0 124.5,162.9 125.0,162.8 125.4,162.7 125.9,162.6 126.9,162.3 128.0,162.0 129.0,161.8 130.0,161.5 131.1,161.3 132.1,161.0 133.1,160.7 134.1,160.5 135.2,160.2 136.2,160.0 137.2,159.7 138.3,159.5 139.3,159.2 140.3,158.9 141.3,158.7 142.4,158.4 143.4,158.2 144.4,157.9 145.4,157.7 146.5,157.4 147.5,157.2 148.5,156.9 149.5,156.6 150.6,156.4 151.6,156.1 152.6,155.9 153.6,155.6 154.6,155.4 155.7,155.1 156.7,154.9 157.7,154.6 158.7,154.3 159.7,154.1 160.8,153.8 161.8,153.6 162.8,153.3 163.8,153.1 171.9,151.0 180.0,149.0 188.1,147.0 196.2,145.0 204.2,143.0 212.2,141.0 220.2,139.0 228.2,137.0 236.1,135.0 244.0,133.0 251.9,131.0 259.8,129.1 267.7,127.1 275.5,125.1 283.3,123.2 291.1,121.2 298.8,119.3 306.6,117.4 314.3,115.4 322.0,113.5 329.6,111.6 337.3,109.7 344.9,107.8 352.5,105.9 360.1,104.0 367.7,102.1 375.2,100.2 382.7,98.3 390.3,96.4 397.7,94.5 405.2,92.7 412.6,90.8 420.0,89.0 427.4,87.1 434.8,85.3 442.2,83.4 449.5,81.6 456.8,79.8 457.7,79.5 458.6,79.3 459.6,79.1 460.5,78.8 461.4,78.6 462.3,78.4 463.2,78.2 464.1,77.9 465.0,77.7 465.9,77.5 466.8,77.3 467.8,77.0 468.7,76.8 469.6,76.6 470.5,76.3 471.4,76.1 472.3,75.9 473.2,75.7 474.1,75.4 475.0,75.2 475.9,75.0 476.8,74.8 477.7,74.5 478.6,74.3 479.6,74.1 480.5,73.8 481.4,73.6 482.3,73.4 483.2,73.2 484.1,72.9 485.0,72.7 485.9,72.5 486.8,72.3 487.7,72.0 488.6,71.8 489.5,71.6 490.4,71.4 490.8,71.3 491.2,71.2 491.6,71.0 492.1,70.9 492.5,70.8 492.9,70.7 493.3,70.6 493.7,70.5 494.1,70.4 494.5,70.3 495.0,70.2 495.4,70.1 495.8,70.0 496.4,69.8 497.1,69.7 497.7,69.5 498.4,69.4 499.0,69.2 499.6,69.0 500.3,68.9 L500.3,68.9 499.6,69.0 499.0,69.2 498.4,69.4 497.7,69.5 497.1,69.7 496.4,69.8 495.8,70.0 495.4,70.1 495.0,70.2 494.5,70.3 494.1,70.4 493.7,70.5 493.3,70.6 492.9,70.7 492.5,70.8 492.1,70.9 491.6,71.0 491.2,71.2 490.8,71.3 490.4,71.4 489.5,71.6 488.6,71.8 487.7,72.0 486.8,72.3 485.9,72.5 485.0,72.7 484.1,72.9 483.2,73.2 482.3,73.4 481.4,73.6 480.5,73.8 479.6,74.1 478.6,74.3 477.7,74.5 476.8,74.8 475.9,75.0 475.0,75.2 474.1,75.4 473.2,75.7 472.3,75.9 471.4,76.1 470.5,76.3 469.6,76.0 468.7,75.5 467.8,75.1 466.9,74.8 465.9,74.5 465.0,74.3 464.1,74.2 463.2,74.1 462.3,74.0 461.4,73.9 460.5,73.9 459.6,73.9 458.7,73.9 457.8,74.0 456.8,74.1 449.5,75.0 442.2,76.4 434.8,77.9 427.4,79.6 420.0,81.4 412.6,83.2 405.2,85.0 397.7,86.8 390.2,88.7 382.7,90.6 375.2,92.4 367.7,94.3 360.1,96.2 352.5,98.1 344.9,100.0 337.3,101.9 329.6,103.8 321.9,105.7 314.2,107.6 306.5,109.5 298.8,111.4 291.0,113.4 283.2,115.3 275.4,117.2 267.6,119.2 259.7,121.2 251.8,123.1 243.9,125.1 236.0,127.1 228.1,129.1 220.1,131.1 212.1,133.2 204.1,135.3 196.1,137.6 188.0,139.9 179.9,142.3 171.8,145.0 163.7,148.1 162.7,148.5 161.7,149.0 160.7,149.4 159.7,149.9 158.6,150.4 157.6,151.0 156.6,151.6 155.6,152.2 154.6,152.8 153.6,153.5 152.6,154.3 151.6,155.1 150.5,156.0 149.5,156.6 148.5,156.9 147.5,157.2 146.5,157.4 145.4,157.7 144.4,157.9 143.4,158.2 142.4,158.4 141.3,158.7 140.3,158.9 139.3,159.2 138.3,159.5 137.2,159.7 136.2,160.0 135.2,160.2 134.1,160.5 133.1,160.7 132.1,161.0 131.1,161.3 130.0,161.5 129.0,161.8 128.0,162.0 126.9,162.3 125.9,162.6 125.4,162.7 125.0,162.8 124.5,162.9 124.0,163.0 123.5,163.1 123.0,163.3 122.6,163.4 122.1,163.5 121.6,163.6 121.1,163.7 120.7,163.9 120.2,164.0 119.7,164.1 119.0,164.3 118.2,164.5 117.5,164.7 116.8,164.8 116.0,165.0 115.3,165.2 114.5,165.4 Z" fill="rgb(255,85,85)" fill-opacity="0.6" stroke="none"/><path d="M114.5,165.4 L115.7,183.4 L116.7,198.8 L117.7,211.8 L118.7,222.5 L119.6,231.0 L120.5,237.5 L121.3,242.2 L121.9,244.3 L122.4,245.8 L122.9,246.7 L123.4,247.1 L123.8,247.2 L124.3,246.2 L124.7,244.5 L125.2,242.4 L125.6,240.1 L126.0,237.8 L126.4,235.3 L126.9,232.7 L127.3,230.1 L128.2,224.5 L129.1,218.8 L130.0,213.3 L131.0,208.1 L131.9,203.1 L132.8,198.3 L133.8,193.9 L134.7,189.8 L135.7,186.0 L136.6,182.5 L137.6,179.3 L138.6,176.3 L139.6,173.6 L140.5,171.1 L141.5,168.9 L142.5,166.9 L143.5,165.0 L144.5,163.3 L145.5,161.8 L146.5,160.4 L147.5,159.2 L148.5,158.0 L149.5,157.0 L150.5,156.0 L151.6,155.1 L152.6,154.3 L153.6,153.5 L154.6,152.8 L155.6,152.2 L156.6,151.6 L157.6,151.0 L158.6,150.4 L159.7,149.9 L160.7,149.4 L161.7,149.0 L162.7,148.5 L163.7,148.1 L171.8,145.0 L179.9,142.3 L188.0,139.9 L196.1,137.6 L204.1,135.3 L212.1,133.2 L220.1,131.1 L228.1,129.1 L236.0,127.1 L243.9,125.1 L251.8,123.1 L259.7,121.2 L267.6,119.2 L275.4,117.2 L283.2,115.3 L291.0,113.4 L298.8,111.4 L306.5,109.5 L314.2,107.6 L321.9,105.7 L329.6,103.8 L337.3,101.9 L344.9,100.0 L352.5,98.1 L360.1,96.2 L367.7,94.3 L375.2,92.4 L382.7,90.6 L390.2,88.7 L397.7,86.8 L405.2,85.0 L412.6,83.2 L420.0,81.4 L427.4,79.6 L434.8,77.9 L442.2,76.4 L449.5,75.0 L456.8,74.1 L457.8,74.0 L458.7,73.9 L459.6,73.9 L460.5,73.9 L461.4,73.9 L462.3,74.0 L463.2,74.1 L464.1,74.2 L465.0,74.3 L465.9,74.5 L466.9,74.8 L467.8,75.1 L468.7,75.5 L469.6,76.0 L470.5,76.5 L471.4,77.2 L472.3,77.9 L473.2,78.8 L474.1,79.8 L475.0,81.0 L475.9,82.3 L476.8,83.8 L477.7,85.5 L478.6,87.4 L479.5,89.5 L480.4,91.9 L481.3,94.5 L482.2,97.4 L483.0,100.5 L483.9,104.0 L484.8,107.7 L485.7,111.7 L486.6,116.0 L487.4,120.5 L488.3,125.2 L489.2,130.1 L490.1,134.9 L490.5,137.2 L490.9,139.3 L491.3,141.5 L491.7,143.5 L492.1,145.4 L492.5,147.1 L492.9,148.5 L493.3,149.2 L493.7,148.9 L494.1,148.3 L494.5,147.2 L495.0,145.6 L495.4,143.4 L496.0,138.7 L496.7,132.2 L497.4,123.8 L498.1,113.5 L498.8,100.9 L499.5,86.1 L500.3,68.9" fill="none" stroke="#000" stroke-width="1.4" stroke-linejoin="round"/><path d="M114.5,165.4 L500.3,68.9" fill="none" stroke="#000" stroke-width="1.4"/></g>
<g><path d="M149.1,179.4 149.8,179.2 150.6,179.1 151.3,178.9 152.0,178.7 152.8,178.5 153.5,178.3 154.3,178.1 154.8,178.0 155.2,177.9 155.7,177.7 156.2,177.6 156.7,177.5 157.1,177.4 157.6,177.3 158.1,177.1 158.6,177.0 159.1,176.9 159.5,176.8 160.0,176.7 160.5,176.5 161.5,176.3 162.6,176.0 163.6,175.7 164.6,175.5 165.7,175.2 166.7,175.0 167.7,174.7 168.8,174.4 169.8,174.2 170.8,173.9 171.9,173.6 172.9,173.4 173.9,173.1 174.9,172.9 176.0,172.6 177.0,172.3 178.0,172.1 179.1,171.8 180.1,171.5 181.1,171.3 182.1,171.0 183.2,170.8 184.2,170.5 185.2,170.2 186.3,170.0 187.3,169.7 188.3,169.5 189.3,169.2 190.4,168.9 191.4,168.7 192.4,168.4 193.4,168.2 194.4,167.9 195.5,167.6 196.5,167.4 197.5,167.1 198.5,166.9 206.7,164.8 214.8,162.7 222.9,160.7 231.0,158.6 239.1,156.5 247.1,154.5 255.1,152.5 263.1,150.4 271.1,148.4 279.0,146.4 287.0,144.4 294.9,142.4 302.7,140.4 310.6,138.4 318.4,136.4 326.2,134.4 334.0,132.4 341.8,130.4 349.5,128.5 357.2,126.5 364.9,124.5 372.6,122.6 380.3,120.7 387.9,118.7 395.5,116.8 403.1,114.8 410.6,112.9 418.2,111.0 425.7,109.1 433.2,107.2 440.7,105.3 448.2,103.4 455.6,101.5 463.0,99.6 470.4,97.7 477.8,95.9 485.1,94.0 492.5,92.1 493.4,91.9 494.3,91.7 495.2,91.4 496.1,91.2 497.0,91.0 498.0,90.7 498.9,90.5 499.8,90.3 500.7,90.0 501.6,89.8 502.5,89.6 503.4,89.3 504.3,89.1 505.3,88.9 506.2,88.6 507.1,88.4 508.0,88.2 508.9,87.9 509.8,87.7 510.7,87.5 511.6,87.3 512.5,87.0 513.4,86.8 514.3,86.6 515.3,86.3 516.2,86.1 517.1,85.9 518.0,85.6 518.9,85.4 519.8,85.2 520.7,84.9 521.6,84.7 522.5,84.5 523.4,84.3 524.3,84.0 525.2,83.8 526.1,83.6 526.5,83.5 527.0,83.4 527.4,83.2 527.8,83.1 528.2,83.0 528.6,82.9 529.0,82.8 529.5,82.7 529.9,82.6 530.3,82.5 530.7,82.4 531.1,82.3 531.5,82.2 532.2,82.0 532.8,81.9 533.5,81.7 534.1,81.5 534.8,81.4 535.4,81.2 536.0,81.0 L536.0,81.0 535.2,103.7 534.4,123.1 533.6,139.6 532.9,153.2 532.1,164.1 531.4,172.6 530.8,178.7 530.3,181.6 529.9,183.7 529.5,185.1 529.0,185.9 528.6,186.2 528.2,185.2 527.8,183.3 527.4,181.0 527.0,178.4 526.6,175.6 526.3,172.8 525.9,169.8 525.5,166.8 524.6,160.2 523.8,153.7 522.9,147.3 522.1,141.2 521.2,135.4 520.4,130.0 519.5,125.0 518.6,120.3 517.8,116.0 516.9,112.1 516.0,108.6 515.1,105.4 514.2,102.6 513.3,100.0 512.5,97.7 511.6,95.7 510.7,93.9 509.8,92.4 508.9,91.0 508.0,89.8 507.1,88.8 506.2,88.6 505.3,88.9 504.3,89.1 503.4,89.3 502.5,89.6 501.6,89.8 500.7,90.0 499.8,90.3 498.9,90.5 498.0,90.7 497.0,91.0 496.1,91.2 495.2,91.4 494.3,91.7 493.4,91.9 492.5,92.1 485.1,94.0 477.8,95.9 470.4,97.7 463.0,99.6 455.6,101.5 448.2,103.4 440.7,105.3 433.2,107.2 425.7,109.1 418.2,111.0 410.6,112.9 403.1,114.8 395.5,116.8 387.9,118.7 380.3,120.7 372.6,122.6 364.9,124.5 357.2,126.5 349.5,128.5 341.8,130.4 334.0,132.4 326.2,134.4 318.4,136.4 310.6,138.4 302.7,140.4 294.9,142.4 287.0,144.4 279.0,146.4 271.1,148.4 263.1,150.4 255.1,152.5 247.1,154.5 239.1,156.5 231.0,158.6 222.9,160.7 214.8,162.7 206.7,164.8 198.5,166.9 197.5,167.1 196.5,167.4 195.5,167.6 194.4,167.9 193.4,168.2 192.4,168.4 191.4,168.7 190.4,168.9 189.3,169.2 188.3,169.5 187.3,169.7 186.3,170.0 185.2,170.2 184.2,170.5 183.2,171.7 182.2,173.1 181.2,174.6 180.2,176.3 179.2,178.2 178.2,180.3 177.2,182.6 176.2,185.2 175.2,188.0 174.2,191.2 173.3,194.6 172.3,198.4 171.3,202.5 170.4,207.1 169.4,212.0 168.5,217.4 167.5,223.2 166.6,229.3 165.7,235.9 164.8,242.9 163.9,250.1 163.0,257.5 162.1,265.0 161.7,268.5 161.3,271.9 160.8,275.2 160.4,278.3 160.0,281.3 159.6,284.0 159.1,286.3 158.7,287.6 158.2,287.5 157.7,286.9 157.2,285.7 156.7,283.7 156.2,280.9 155.3,274.7 154.4,266.1 153.5,254.9 152.5,240.8 151.4,223.6 150.3,203.2 149.1,179.4 Z" fill="rgb(85,85,255)" fill-opacity="0.6" stroke="none"/><path d="M149.1,179.4 149.8,179.2 150.6,179.1 151.3,178.9 152.0,178.7 152.8,178.5 153.5,178.3 154.3,178.1 154.8,178.0 155.2,177.9 155.7,177.7 156.2,177.6 156.7,177.5 157.1,177.4 157.6,177.3 158.1,177.1 158.6,177.0 159.1,176.9 159.5,176.8 160.0,176.7 160.5,176.5 161.5,176.3 162.6,176.0 163.6,175.7 164.6,175.5 165.7,175.2 166.7,175.0 167.7,174.7 168.8,174.4 169.8,174.2 170.8,173.9 171.9,173.6 172.9,173.4 173.9,173.1 174.9,172.9 176.0,172.6 177.0,172.3 178.0,172.1 179.1,171.8 180.1,171.5 181.1,171.3 182.1,171.0 183.2,170.8 184.2,170.5 185.2,170.2 186.3,170.0 187.3,169.7 188.3,169.5 189.3,169.2 190.4,168.9 191.4,168.7 192.4,168.4 193.4,168.2 194.4,167.9 195.5,167.6 196.5,167.4 197.5,167.1 198.5,166.9 206.7,164.8 214.8,162.7 222.9,160.7 231.0,158.6 239.1,156.5 247.1,154.5 255.1,152.5 263.1,150.4 271.1,148.4 279.0,146.4 287.0,144.4 294.9,142.4 302.7,140.4 310.6,138.4 318.4,136.4 326.2,134.4 334.0,132.4 341.8,130.4 349.5,128.5 357.2,126.5 364.9,124.5 372.6,122.6 380.3,120.7 387.9,118.7 395.5,116.8 403.1,114.8 410.6,112.9 418.2,111.0 425.7,109.1 433.2,107.2 440.7,105.3 448.2,103.4 455.6,101.5 463.0,99.6 470.4,97.7 477.8,95.9 485.1,94.0 492.5,92.1 493.4,91.9 494.3,91.7 495.2,91.4 496.1,91.2 497.0,91.0 498.0,90.7 498.9,90.5 499.8,90.3 500.7,90.0 501.6,89.8 502.5,89.6 503.4,89.3 504.3,89.1 505.3,88.9 506.2,88.6 507.1,88.4 508.0,88.2 508.9,87.9 509.8,87.7 510.7,87.5 511.6,87.3 512.5,87.0 513.4,86.8 514.3,86.6 515.3,86.3 516.2,86.1 517.1,85.9 518.0,85.6 518.9,85.4 519.8,85.2 520.7,84.9 521.6,84.7 522.5,84.5 523.4,84.3 524.3,84.0 525.2,83.8 526.1,83.6 526.5,83.5 527.0,83.4 527.4,83.2 527.8,83.1 528.2,83.0 528.6,82.9 529.0,82.8 529.5,82.7 529.9,82.6 530.3,82.5 530.7,82.4 531.1,82.3 531.5,82.2 532.2,82.0 532.8,81.9 533.5,81.7 534.1,81.5 534.8,81.4 535.4,81.2 536.0,81.0 L536.0,81.0 535.4,81.2 534.8,81.4 534.1,81.5 533.5,81.7 532.8,81.9 532.2,82.0 531.5,82.2 531.1,82.3 530.7,82.4 530.3,82.5 529.9,82.6 529.5,82.7 529.0,82.8 528.6,82.9 528.2,83.0 527.8,83.1 527.4,83.2 527.0,83.4 526.5,83.5 526.1,83.6 525.2,83.8 524.3,84.0 523.4,84.3 522.5,84.5 521.6,84.7 520.7,84.9 519.8,85.2 518.9,85.4 518.0,85.6 517.1,85.9 516.2,86.1 515.3,86.3 514.3,86.6 513.4,86.8 512.5,87.0 511.6,87.3 510.7,87.5 509.8,87.7 508.9,87.9 508.0,88.2 507.1,88.4 506.2,87.9 505.3,87.2 504.4,86.5 503.4,86.0 502.5,85.5 501.6,85.2 500.7,84.8 499.8,84.6 498.9,84.4 498.0,84.3 497.1,84.2 496.2,84.1 495.3,84.1 494.3,84.1 493.4,84.1 492.5,84.1 485.2,85.0 477.8,86.5 470.4,88.1 463.0,89.9 455.6,91.7 448.2,93.6 440.7,95.4 433.2,97.3 425.7,99.2 418.2,101.1 410.6,103.0 403.1,104.9 395.5,106.8 387.9,108.8 380.2,110.7 372.6,112.6 364.9,114.6 357.2,116.5 349.5,118.4 341.7,120.4 334.0,122.4 326.2,124.3 318.4,126.3 310.5,128.3 302.7,130.3 294.8,132.3 286.9,134.3 278.9,136.3 271.0,138.3 263.0,140.3 255.0,142.4 247.0,144.5 239.0,146.7 230.9,149.0 222.8,151.3 214.7,153.9 206.6,156.8 198.4,160.1 197.4,160.6 196.4,161.1 195.4,161.6 194.4,162.2 193.3,162.8 192.3,163.4 191.3,164.1 190.3,164.8 189.3,165.5 188.3,166.3 187.2,167.2 186.2,168.2 185.2,169.3 184.2,170.4 183.2,170.8 182.1,171.0 181.1,171.3 180.1,171.5 179.1,171.8 178.0,172.1 177.0,172.3 176.0,172.6 174.9,172.9 173.9,173.1 172.9,173.4 171.9,173.6 170.8,173.9 169.8,174.2 168.8,174.4 167.7,174.7 166.7,175.0 165.7,175.2 164.6,175.5 163.6,175.7 162.6,176.0 161.5,176.3 160.5,176.5 160.0,176.7 159.5,176.8 159.1,176.9 158.6,177.0 158.1,177.1 157.6,177.3 157.1,177.4 156.7,177.5 156.2,177.6 155.7,177.7 155.2,177.9 154.8,178.0 154.3,178.1 153.5,178.3 152.8,178.5 152.0,178.7 151.3,178.9 150.6,179.1 149.8,179.2 149.1,179.4 Z" fill="rgb(255,85,85)" fill-opacity="0.6" stroke="none"/><path d="M149.1,179.4 L150.3,203.2 L151.4,223.6 L152.5,240.8 L153.5,254.9 L154.4,266.1 L155.3,274.7 L156.2,280.9 L156.7,283.7 L157.2,285.7 L157.7,286.9 L158.2,287.5 L158.7,287.6 L159.1,286.3 L159.6,284.0 L160.0,281.3 L160.4,278.3 L160.8,275.2 L161.3,271.9 L161.7,268.5 L162.1,265.0 L163.0,257.5 L163.9,250.1 L164.8,242.9 L165.7,235.9 L166.6,229.3 L167.5,223.2 L168.5,217.4 L169.4,212.0 L170.4,207.1 L171.3,202.5 L172.3,198.4 L173.3,194.6 L174.2,191.2 L175.2,188.0 L176.2,185.2 L177.2,182.6 L178.2,180.3 L179.2,178.2 L180.2,176.3 L181.2,174.6 L182.2,173.1 L183.2,171.7 L184.2,170.4 L185.2,169.3 L186.2,168.2 L187.2,167.2 L188.3,166.3 L189.3,165.5 L190.3,164.8 L191.3,164.1 L192.3,163.4 L193.3,162.8 L194.4,162.2 L195.4,161.6 L196.4,161.1 L197.4,160.6 L198.4,160.1 L206.6,156.8 L214.7,153.9 L222.8,151.3 L230.9,149.0 L239.0,146.7 L247.0,144.5 L255.0,142.4 L263.0,140.3 L271.0,138.3 L278.9,136.3 L286.9,134.3 L294.8,132.3 L302.7,130.3 L310.5,128.3 L318.4,126.3 L326.2,124.3 L334.0,122.4 L341.7,120.4 L349.5,118.4 L357.2,116.5 L364.9,114.6 L372.6,112.6 L380.2,110.7 L387.9,108.8 L395.5,106.8 L403.1,104.9 L410.6,103.0 L418.2,101.1 L425.7,99.2 L433.2,97.3 L440.7,95.4 L448.2,93.6 L455.6,91.7 L463.0,89.9 L470.4,88.1 L477.8,86.5 L485.2,85.0 L492.5,84.1 L493.4,84.1 L494.3,84.1 L495.3,84.1 L496.2,84.1 L497.1,84.2 L498.0,84.3 L498.9,84.4 L499.8,84.6 L500.7,84.8 L501.6,85.2 L502.5,85.5 L503.4,86.0 L504.4,86.5 L505.3,87.2 L506.2,87.9 L507.1,88.8 L508.0,89.8 L508.9,91.0 L509.8,92.4 L510.7,93.9 L511.6,95.7 L512.5,97.7 L513.3,100.0 L514.2,102.6 L515.1,105.4 L516.0,108.6 L516.9,112.1 L517.8,116.0 L518.6,120.3 L519.5,125.0 L520.4,130.0 L521.2,135.4 L522.1,141.2 L522.9,147.3 L523.8,153.7 L524.6,160.2 L525.5,166.8 L525.9,169.8 L526.3,172.8 L526.6,175.6 L527.0,178.4 L527.4,181.0 L527.8,183.3 L528.2,185.2 L528.6,186.2 L529.0,185.9 L529.5,185.1 L529.9,183.7 L530.3,181.6 L530.8,178.7 L531.4,172.6 L532.1,164.1 L532.9,153.2 L533.6,139.6 L534.4,123.1 L535.2,103.7 L536.0,81.0" fill="none" stroke="#000" stroke-width="1.4" stroke-linejoin="round"/><path d="M149.1,179.4 L536.0,81.0" fill="none" stroke="#000" stroke-width="1.4"/></g>
<g><path d="M184.3,193.8 185.1,193.6 185.8,193.4 186.6,193.2 187.3,193.0 188.0,192.8 188.8,192.6 189.5,192.4 190.0,192.3 190.5,192.2 191.0,192.0 191.5,191.9 191.9,191.8 192.4,191.7 192.9,191.5 193.4,191.4 193.9,191.3 194.3,191.2 194.8,191.0 195.3,190.9 195.8,190.8 196.8,190.5 197.9,190.3 198.9,190.0 199.9,189.7 201.0,189.4 202.0,189.2 203.0,188.9 204.1,188.6 205.1,188.4 206.2,188.1 207.2,187.8 208.2,187.6 209.3,187.3 210.3,187.0 211.3,186.8 212.4,186.5 213.4,186.2 214.4,186.0 215.5,185.7 216.5,185.4 217.5,185.2 218.5,184.9 219.6,184.6 220.6,184.4 221.6,184.1 222.7,183.8 223.7,183.6 224.7,183.3 225.8,183.0 226.8,182.8 227.8,182.5 228.8,182.2 229.9,182.0 230.9,181.7 231.9,181.5 232.9,181.2 234.0,180.9 242.1,178.8 250.3,176.7 258.4,174.6 266.6,172.5 274.7,170.4 282.7,168.3 290.8,166.2 298.8,164.2 306.8,162.1 314.7,160.0 322.7,158.0 330.6,155.9 338.5,153.9 346.4,151.9 354.3,149.8 362.1,147.8 369.9,145.8 377.7,143.8 385.4,141.8 393.2,139.8 400.9,137.8 408.6,135.8 416.3,133.8 423.9,131.8 431.6,129.9 439.2,127.9 446.8,125.9 454.3,124.0 461.9,122.0 469.4,120.1 476.9,118.1 484.4,116.2 491.8,114.3 499.3,112.4 506.7,110.4 514.1,108.5 521.4,106.6 528.8,104.7 529.7,104.5 530.6,104.2 531.5,104.0 532.5,103.8 533.4,103.5 534.3,103.3 535.2,103.1 536.1,102.8 537.0,102.6 538.0,102.4 538.9,102.1 539.8,101.9 540.7,101.6 541.6,101.4 542.5,101.2 543.4,100.9 544.3,100.7 545.3,100.5 546.2,100.2 547.1,100.0 548.0,99.8 548.9,99.5 549.8,99.3 550.7,99.1 551.6,98.8 552.5,98.6 553.5,98.3 554.4,98.1 555.3,97.9 556.2,97.6 557.1,97.4 558.0,97.2 558.9,96.9 559.8,96.7 560.7,96.5 561.6,96.2 562.5,96.0 562.9,95.9 563.4,95.8 563.8,95.7 564.2,95.6 564.6,95.5 565.0,95.4 565.5,95.2 565.9,95.1 566.3,95.0 566.7,94.9 567.1,94.8 567.5,94.7 568.0,94.6 568.6,94.4 569.2,94.3 569.9,94.1 570.5,93.9 571.2,93.8 571.8,93.6 572.5,93.4 L572.5,93.4 571.5,121.1 570.6,144.9 569.8,165.0 568.9,181.6 568.2,194.9 567.4,205.2 566.7,212.7 566.2,216.2 565.8,218.8 565.4,220.4 564.9,221.4 564.5,221.7 564.1,220.6 563.7,218.2 563.4,215.3 563.0,212.1 562.6,208.7 562.2,205.2 561.9,201.6 561.5,197.9 560.7,189.7 559.8,181.7 559.0,173.8 558.2,166.3 557.4,159.2 556.5,152.5 555.7,146.2 554.9,140.4 554.0,135.1 553.1,130.3 552.3,125.9 551.4,121.9 550.5,118.4 549.7,115.2 548.8,112.3 547.9,109.8 547.0,107.6 546.1,105.6 545.2,103.9 544.3,102.4 543.4,101.1 542.5,101.2 541.6,101.4 540.7,101.6 539.8,101.9 538.9,102.1 538.0,102.4 537.0,102.6 536.1,102.8 535.2,103.1 534.3,103.3 533.4,103.5 532.5,103.8 531.5,104.0 530.6,104.2 529.7,104.5 528.8,104.7 521.4,106.6 514.1,108.5 506.7,110.4 499.3,112.4 491.8,114.3 484.4,116.2 476.9,118.1 469.4,120.1 461.9,122.0 454.3,124.0 446.8,125.9 439.2,127.9 431.6,129.9 423.9,131.8 416.3,133.8 408.6,135.8 400.9,137.8 393.2,139.8 385.4,141.8 377.7,143.8 369.9,145.8 362.1,147.8 354.3,149.8 346.4,151.9 338.5,153.9 330.6,155.9 322.7,158.0 314.7,160.0 306.8,162.1 298.8,164.2 290.8,166.2 282.7,168.3 274.7,170.4 266.6,172.5 258.4,174.6 250.3,176.7 242.1,178.8 234.0,180.9 232.9,181.2 231.9,181.5 230.9,181.7 229.9,182.0 228.8,182.2 227.8,182.5 226.8,182.8 225.8,183.0 224.7,183.3 223.7,183.6 222.7,183.8 221.6,184.1 220.6,184.4 219.6,184.6 218.6,185.8 217.5,187.5 216.5,189.3 215.5,191.4 214.5,193.6 213.5,196.2 212.5,199.0 211.5,202.1 210.6,205.5 209.6,209.3 208.6,213.5 207.6,218.1 206.7,223.1 205.7,228.6 204.8,234.6 203.8,241.2 202.9,248.2 202.0,255.7 201.1,263.7 200.2,272.2 199.3,281.0 198.4,290.0 197.5,299.1 197.1,303.3 196.6,307.4 196.2,311.5 195.8,315.3 195.4,318.9 195.0,322.2 194.5,325.0 194.1,326.5 193.6,326.4 193.1,325.7 192.6,324.2 192.1,321.7 191.5,318.3 190.7,310.7 189.8,300.1 188.8,286.3 187.8,269.0 186.7,248.0 185.5,222.9 184.3,193.8 Z" fill="rgb(85,85,255)" fill-opacity="0.6" stroke="none"/><path d="M184.3,193.8 185.1,193.6 185.8,193.4 186.6,193.2 187.3,193.0 188.0,192.8 188.8,192.6 189.5,192.4 190.0,192.3 190.5,192.2 191.0,192.0 191.5,191.9 191.9,191.8 192.4,191.7 192.9,191.5 193.4,191.4 193.9,191.3 194.3,191.2 194.8,191.0 195.3,190.9 195.8,190.8 196.8,190.5 197.9,190.3 198.9,190.0 199.9,189.7 201.0,189.4 202.0,189.2 203.0,188.9 204.1,188.6 205.1,188.4 206.2,188.1 207.2,187.8 208.2,187.6 209.3,187.3 210.3,187.0 211.3,186.8 212.4,186.5 213.4,186.2 214.4,186.0 215.5,185.7 216.5,185.4 217.5,185.2 218.5,184.9 219.6,184.6 220.6,184.4 221.6,184.1 222.7,183.8 223.7,183.6 224.7,183.3 225.8,183.0 226.8,182.8 227.8,182.5 228.8,182.2 229.9,182.0 230.9,181.7 231.9,181.5 232.9,181.2 234.0,180.9 242.1,178.8 250.3,176.7 258.4,174.6 266.6,172.5 274.7,170.4 282.7,168.3 290.8,166.2 298.8,164.2 306.8,162.1 314.7,160.0 322.7,158.0 330.6,155.9 338.5,153.9 346.4,151.9 354.3,149.8 362.1,147.8 369.9,145.8 377.7,143.8 385.4,141.8 393.2,139.8 400.9,137.8 408.6,135.8 416.3,133.8 423.9,131.8 431.6,129.9 439.2,127.9 446.8,125.9 454.3,124.0 461.9,122.0 469.4,120.1 476.9,118.1 484.4,116.2 491.8,114.3 499.3,112.4 506.7,110.4 514.1,108.5 521.4,106.6 528.8,104.7 529.7,104.5 530.6,104.2 531.5,104.0 532.5,103.8 533.4,103.5 534.3,103.3 535.2,103.1 536.1,102.8 537.0,102.6 538.0,102.4 538.9,102.1 539.8,101.9 540.7,101.6 541.6,101.4 542.5,101.2 543.4,100.9 544.3,100.7 545.3,100.5 546.2,100.2 547.1,100.0 548.0,99.8 548.9,99.5 549.8,99.3 550.7,99.1 551.6,98.8 552.5,98.6 553.5,98.3 554.4,98.1 555.3,97.9 556.2,97.6 557.1,97.4 558.0,97.2 558.9,96.9 559.8,96.7 560.7,96.5 561.6,96.2 562.5,96.0 562.9,95.9 563.4,95.8 563.8,95.7 564.2,95.6 564.6,95.5 565.0,95.4 565.5,95.2 565.9,95.1 566.3,95.0 566.7,94.9 567.1,94.8 567.5,94.7 568.0,94.6 568.6,94.4 569.2,94.3 569.9,94.1 570.5,93.9 571.2,93.8 571.8,93.6 572.5,93.4 L572.5,93.4 571.8,93.6 571.2,93.8 570.5,93.9 569.9,94.1 569.2,94.3 568.6,94.4 568.0,94.6 567.5,94.7 567.1,94.8 566.7,94.9 566.3,95.0 565.9,95.1 565.5,95.2 565.0,95.4 564.6,95.5 564.2,95.6 563.8,95.7 563.4,95.8 562.9,95.9 562.5,96.0 561.6,96.2 560.7,96.5 559.8,96.7 558.9,96.9 558.0,97.2 557.1,97.4 556.2,97.6 555.3,97.9 554.4,98.1 553.5,98.3 552.5,98.6 551.6,98.8 550.7,99.1 549.8,99.3 548.9,99.5 548.0,99.8 547.1,100.0 546.2,100.2 545.3,100.5 544.3,100.7 543.4,100.9 542.5,99.9 541.6,99.0 540.7,98.1 539.8,97.4 538.9,96.8 538.0,96.3 537.1,95.9 536.2,95.6 535.3,95.3 534.4,95.1 533.4,95.0 532.5,94.9 531.6,94.8 530.7,94.7 529.8,94.7 528.9,94.8 521.5,95.6 514.1,97.1 506.7,98.8 499.3,100.6 491.9,102.5 484.4,104.4 476.9,106.3 469.4,108.2 461.9,110.1 454.3,112.1 446.8,114.0 439.2,115.9 431.6,117.9 423.9,119.8 416.3,121.8 408.6,123.8 400.9,125.7 393.2,127.7 385.4,129.7 377.6,131.7 369.9,133.7 362.0,135.7 354.2,137.7 346.3,139.7 338.5,141.7 330.5,143.8 322.6,145.8 314.7,147.9 306.7,149.9 298.7,152.0 290.7,154.1 282.6,156.2 274.5,158.4 266.4,160.7 258.3,163.2 250.2,165.8 242.0,168.8 233.9,172.4 232.8,173.0 231.8,173.5 230.8,174.1 229.8,174.7 228.7,175.4 227.7,176.1 226.7,176.9 225.7,177.7 224.7,178.6 223.6,179.5 222.6,180.6 221.6,181.7 220.6,182.9 219.6,184.3 218.5,184.9 217.5,185.2 216.5,185.4 215.5,185.7 214.4,186.0 213.4,186.2 212.4,186.5 211.3,186.8 210.3,187.0 209.3,187.3 208.2,187.6 207.2,187.8 206.2,188.1 205.1,188.4 204.1,188.6 203.0,188.9 202.0,189.2 201.0,189.4 199.9,189.7 198.9,190.0 197.9,190.3 196.8,190.5 195.8,190.8 195.3,190.9 194.8,191.0 194.3,191.2 193.9,191.3 193.4,191.4 192.9,191.5 192.4,191.7 191.9,191.8 191.5,191.9 191.0,192.0 190.5,192.2 190.0,192.3 189.5,192.4 188.8,192.6 188.0,192.8 187.3,193.0 186.6,193.2 185.8,193.4 185.1,193.6 184.3,193.8 Z" fill="rgb(255,85,85)" fill-opacity="0.6" stroke="none"/><path d="M184.3,193.8 L185.5,222.9 L186.7,248.0 L187.8,269.0 L188.8,286.3 L189.8,300.1 L190.7,310.7 L191.5,318.3 L192.1,321.7 L192.6,324.2 L193.1,325.7 L193.6,326.4 L194.1,326.5 L194.5,325.0 L195.0,322.2 L195.4,318.9 L195.8,315.3 L196.2,311.5 L196.6,307.4 L197.1,303.3 L197.5,299.1 L198.4,290.0 L199.3,281.0 L200.2,272.2 L201.1,263.7 L202.0,255.7 L202.9,248.2 L203.8,241.2 L204.8,234.6 L205.7,228.6 L206.7,223.1 L207.6,218.1 L208.6,213.5 L209.6,209.3 L210.6,205.5 L211.5,202.1 L212.5,199.0 L213.5,196.2 L214.5,193.6 L215.5,191.4 L216.5,189.3 L217.5,187.5 L218.6,185.8 L219.6,184.3 L220.6,182.9 L221.6,181.7 L222.6,180.6 L223.6,179.5 L224.7,178.6 L225.7,177.7 L226.7,176.9 L227.7,176.1 L228.7,175.4 L229.8,174.7 L230.8,174.1 L231.8,173.5 L232.8,173.0 L233.9,172.4 L242.0,168.8 L250.2,165.8 L258.3,163.2 L266.4,160.7 L274.5,158.4 L282.6,156.2 L290.7,154.1 L298.7,152.0 L306.7,149.9 L314.7,147.9 L322.6,145.8 L330.5,143.8 L338.5,141.7 L346.3,139.7 L354.2,137.7 L362.0,135.7 L369.9,133.7 L377.6,131.7 L385.4,129.7 L393.2,127.7 L400.9,125.7 L408.6,123.8 L416.3,121.8 L423.9,119.8 L431.6,117.9 L439.2,115.9 L446.8,114.0 L454.3,112.1 L461.9,110.1 L469.4,108.2 L476.9,106.3 L484.4,104.4 L491.9,102.5 L499.3,100.6 L506.7,98.8 L514.1,97.1 L521.5,95.6 L528.9,94.8 L529.8,94.7 L530.7,94.7 L531.6,94.8 L532.5,94.9 L533.4,95.0 L534.4,95.1 L535.3,95.3 L536.2,95.6 L537.1,95.9 L538.0,96.3 L538.9,96.8 L539.8,97.4 L540.7,98.1 L541.6,99.0 L542.5,99.9 L543.4,101.1 L544.3,102.4 L545.2,103.9 L546.1,105.6 L547.0,107.6 L547.9,109.8 L548.8,112.3 L549.7,115.2 L550.5,118.4 L551.4,121.9 L552.3,125.9 L553.1,130.3 L554.0,135.1 L554.9,140.4 L555.7,146.2 L556.5,152.5 L557.4,159.2 L558.2,166.3 L559.0,173.8 L559.8,181.7 L560.7,189.7 L561.5,197.9 L561.9,201.6 L562.2,205.2 L562.6,208.7 L563.0,212.1 L563.4,215.3 L563.7,218.2 L564.1,220.6 L564.5,221.7 L564.9,221.4 L565.4,220.4 L565.8,218.8 L566.2,216.2 L566.7,212.7 L567.4,205.2 L568.2,194.9 L568.9,181.6 L569.8,165.0 L570.6,144.9 L571.5,121.1 L572.5,93.4" fill="none" stroke="#000" stroke-width="1.4" stroke-linejoin="round"/><path d="M184.3,193.8 L572.5,93.4" fill="none" stroke="#000" stroke-width="1.4"/></g>
<g><path d="M220.3,208.4 221.0,208.2 221.8,208.0 222.5,207.8 223.3,207.6 224.0,207.4 224.8,207.2 225.5,207.0 226.0,206.9 226.5,206.7 227.0,206.6 227.5,206.5 227.9,206.4 228.4,206.2 228.9,206.1 229.4,206.0 229.9,205.9 230.3,205.7 230.8,205.6 231.3,205.5 231.8,205.3 232.8,205.1 233.9,204.8 234.9,204.5 236.0,204.2 237.0,204.0 238.0,203.7 239.1,203.4 240.1,203.2 241.2,202.9 242.2,202.6 243.2,202.3 244.3,202.1 245.3,201.8 246.4,201.5 247.4,201.2 248.4,201.0 249.5,200.7 250.5,200.4 251.5,200.2 252.6,199.9 253.6,199.6 254.6,199.3 255.7,199.1 256.7,198.8 257.7,198.5 258.8,198.3 259.8,198.0 260.8,197.7 261.9,197.4 262.9,197.2 263.9,196.9 265.0,196.6 266.0,196.4 267.0,196.1 268.1,195.8 269.1,195.5 270.1,195.3 278.3,193.1 286.5,191.0 294.7,188.8 302.8,186.7 310.9,184.5 319.0,182.4 327.1,180.3 335.1,178.2 343.2,176.1 351.2,174.0 359.1,171.9 367.1,169.8 375.0,167.7 382.9,165.6 390.8,163.6 398.6,161.5 406.5,159.4 414.3,157.4 422.1,155.3 429.8,153.3 437.6,151.3 445.3,149.2 453.0,147.2 460.7,145.2 468.3,143.2 476.0,141.2 483.6,139.2 491.1,137.2 498.7,135.2 506.3,133.2 513.8,131.2 521.3,129.3 528.7,127.3 536.2,125.3 543.6,123.4 551.0,121.4 558.4,119.5 565.8,117.6 566.7,117.3 567.7,117.1 568.6,116.8 569.5,116.6 570.4,116.4 571.3,116.1 572.2,115.9 573.2,115.6 574.1,115.4 575.0,115.1 575.9,114.9 576.8,114.7 577.7,114.4 578.7,114.2 579.6,113.9 580.5,113.7 581.4,113.5 582.3,113.2 583.2,113.0 584.1,112.7 585.1,112.5 586.0,112.3 586.9,112.0 587.8,111.8 588.7,111.5 589.6,111.3 590.5,111.1 591.4,110.8 592.4,110.6 593.3,110.3 594.2,110.1 595.1,109.9 596.0,109.6 596.9,109.4 597.8,109.2 598.7,108.9 599.6,108.7 600.0,108.6 600.5,108.5 600.9,108.3 601.3,108.2 601.7,108.1 602.1,108.0 602.6,107.9 603.0,107.8 603.4,107.7 603.8,107.6 604.2,107.5 604.7,107.4 605.1,107.2 605.7,107.1 606.4,106.9 607.0,106.7 607.7,106.6 608.3,106.4 608.9,106.2 609.6,106.1 L609.6,106.1 608.5,138.7 607.5,166.7 606.5,190.4 605.6,209.9 604.8,225.5 604.0,237.6 603.2,246.4 602.7,250.5 602.3,253.4 601.9,255.4 601.4,256.5 601.0,256.9 600.6,255.5 600.2,252.6 599.9,249.1 599.5,245.3 599.2,241.2 598.8,236.9 598.4,232.5 598.1,228.0 597.3,218.3 596.5,208.6 595.8,199.2 595.0,190.2 594.2,181.7 593.4,173.7 592.6,166.3 591.7,159.4 590.9,153.2 590.1,147.5 589.2,142.3 588.4,137.6 587.5,133.4 586.7,129.7 585.8,126.4 584.9,123.4 584.0,120.8 583.2,118.6 582.3,116.6 581.4,114.8 580.5,113.7 579.6,113.9 578.7,114.2 577.7,114.4 576.8,114.7 575.9,114.9 575.0,115.1 574.1,115.4 573.2,115.6 572.2,115.9 571.3,116.1 570.4,116.4 569.5,116.6 568.6,116.8 567.7,117.1 566.7,117.3 565.8,117.6 558.4,119.5 551.0,121.4 543.6,123.4 536.2,125.3 528.7,127.3 521.3,129.3 513.8,131.2 506.3,133.2 498.7,135.2 491.1,137.2 483.6,139.2 476.0,141.2 468.3,143.2 460.7,145.2 453.0,147.2 445.3,149.2 437.6,151.3 429.8,153.3 422.1,155.3 414.3,157.4 406.5,159.4 398.6,161.5 390.8,163.6 382.9,165.6 375.0,167.7 367.1,169.8 359.1,171.9 351.2,174.0 343.2,176.1 335.1,178.2 327.1,180.3 319.0,182.4 310.9,184.5 302.8,186.7 294.7,188.8 286.5,191.0 278.3,193.1 270.1,195.3 269.1,195.5 268.1,195.8 267.0,196.1 266.0,196.4 265.0,196.6 263.9,196.9 262.9,197.2 261.9,197.4 260.8,197.7 259.8,198.0 258.8,198.3 257.7,198.5 256.7,198.8 255.7,199.1 254.6,200.0 253.6,202.0 252.6,204.1 251.6,206.5 250.6,209.1 249.6,212.1 248.6,215.4 247.6,219.0 246.6,223.0 245.6,227.5 244.6,232.4 243.7,237.8 242.7,243.7 241.7,250.2 240.8,257.3 239.8,264.9 238.9,273.2 238.0,282.1 237.1,291.5 236.2,301.4 235.2,311.7 234.3,322.3 233.5,333.1 233.0,338.0 232.6,342.8 232.2,347.5 231.8,352.0 231.4,356.3 230.9,360.1 230.5,363.4 230.0,365.1 229.6,365.0 229.1,364.1 228.6,362.3 228.1,359.4 227.5,355.3 226.7,346.3 225.7,333.9 224.8,317.6 223.8,297.2 222.7,272.4 221.5,242.8 220.3,208.4 Z" fill="rgb(85,85,255)" fill-opacity="0.6" stroke="none"/><path d="M220.3,208.4 221.0,208.2 221.8,208.0 222.5,207.8 223.3,207.6 224.0,207.4 224.8,207.2 225.5,207.0 226.0,206.9 226.5,206.7 227.0,206.6 227.5,206.5 227.9,206.4 228.4,206.2 228.9,206.1 229.4,206.0 229.9,205.9 230.3,205.7 230.8,205.6 231.3,205.5 231.8,205.3 232.8,205.1 233.9,204.8 234.9,204.5 236.0,204.2 237.0,204.0 238.0,203.7 239.1,203.4 240.1,203.2 241.2,202.9 242.2,202.6 243.2,202.3 244.3,202.1 245.3,201.8 246.4,201.5 247.4,201.2 248.4,201.0 249.5,200.7 250.5,200.4 251.5,200.2 252.6,199.9 253.6,199.6 254.6,199.3 255.7,199.1 256.7,198.8 257.7,198.5 258.8,198.3 259.8,198.0 260.8,197.7 261.9,197.4 262.9,197.2 263.9,196.9 265.0,196.6 266.0,196.4 267.0,196.1 268.1,195.8 269.1,195.5 270.1,195.3 278.3,193.1 286.5,191.0 294.7,188.8 302.8,186.7 310.9,184.5 319.0,182.4 327.1,180.3 335.1,178.2 343.2,176.1 351.2,174.0 359.1,171.9 367.1,169.8 375.0,167.7 382.9,165.6 390.8,163.6 398.6,161.5 406.5,159.4 414.3,157.4 422.1,155.3 429.8,153.3 437.6,151.3 445.3,149.2 453.0,147.2 460.7,145.2 468.3,143.2 476.0,141.2 483.6,139.2 491.1,137.2 498.7,135.2 506.3,133.2 513.8,131.2 521.3,129.3 528.7,127.3 536.2,125.3 543.6,123.4 551.0,121.4 558.4,119.5 565.8,117.6 566.7,117.3 567.7,117.1 568.6,116.8 569.5,116.6 570.4,116.4 571.3,116.1 572.2,115.9 573.2,115.6 574.1,115.4 575.0,115.1 575.9,114.9 576.8,114.7 577.7,114.4 578.7,114.2 579.6,113.9 580.5,113.7 581.4,113.5 582.3,113.2 583.2,113.0 584.1,112.7 585.1,112.5 586.0,112.3 586.9,112.0 587.8,111.8 588.7,111.5 589.6,111.3 590.5,111.1 591.4,110.8 592.4,110.6 593.3,110.3 594.2,110.1 595.1,109.9 596.0,109.6 596.9,109.4 597.8,109.2 598.7,108.9 599.6,108.7 600.0,108.6 600.5,108.5 600.9,108.3 601.3,108.2 601.7,108.1 602.1,108.0 602.6,107.9 603.0,107.8 603.4,107.7 603.8,107.6 604.2,107.5 604.7,107.4 605.1,107.2 605.7,107.1 606.4,106.9 607.0,106.7 607.7,106.6 608.3,106.4 608.9,106.2 609.6,106.1 L609.6,106.1 608.9,106.2 608.3,106.4 607.7,106.6 607.0,106.7 606.4,106.9 605.7,107.1 605.1,107.2 604.7,107.4 604.2,107.5 603.8,107.6 603.4,107.7 603.0,107.8 602.6,107.9 602.1,108.0 601.7,108.1 601.3,108.2 600.9,108.3 600.5,108.5 600.0,108.6 599.6,108.7 598.7,108.9 597.8,109.2 596.9,109.4 596.0,109.6 595.1,109.9 594.2,110.1 593.3,110.3 592.4,110.6 591.4,110.8 590.5,111.1 589.6,111.3 588.7,111.5 587.8,111.8 586.9,112.0 586.0,112.3 585.1,112.5 584.1,112.7 583.2,113.0 582.3,113.2 581.4,113.5 580.5,113.3 579.6,112.0 578.7,110.9 577.8,109.9 576.9,109.1 576.0,108.4 575.1,107.8 574.2,107.3 573.3,106.9 572.3,106.6 571.4,106.4 570.5,106.2 569.6,106.0 568.7,105.9 567.8,105.9 566.9,105.8 565.9,105.8 558.6,106.6 551.2,108.0 543.8,109.7 536.3,111.6 528.9,113.5 521.4,115.4 513.9,117.3 506.3,119.3 498.8,121.3 491.2,123.2 483.6,125.2 476.0,127.2 468.4,129.2 460.7,131.2 453.0,133.2 445.3,135.2 437.6,137.2 429.9,139.2 422.1,141.2 414.3,143.2 406.5,145.3 398.6,147.3 390.8,149.4 382.9,151.4 375.0,153.5 367.0,155.5 359.1,157.6 351.1,159.7 343.1,161.8 335.1,163.9 327.0,166.0 318.9,168.2 310.8,170.4 302.7,172.7 294.6,175.2 286.4,177.9 278.2,181.0 270.0,184.9 269.0,185.5 267.9,186.1 266.9,186.7 265.9,187.4 264.9,188.1 263.8,188.9 262.8,189.8 261.8,190.7 260.8,191.7 259.7,192.8 258.7,194.0 257.7,195.3 256.7,196.7 255.7,198.3 254.6,199.3 253.6,199.6 252.6,199.9 251.5,200.2 250.5,200.4 249.5,200.7 248.4,201.0 247.4,201.2 246.4,201.5 245.3,201.8 244.3,202.1 243.2,202.3 242.2,202.6 241.2,202.9 240.1,203.2 239.1,203.4 238.0,203.7 237.0,204.0 236.0,204.2 234.9,204.5 233.9,204.8 232.8,205.1 231.8,205.3 231.3,205.5 230.8,205.6 230.3,205.7 229.9,205.9 229.4,206.0 228.9,206.1 228.4,206.2 227.9,206.4 227.5,206.5 227.0,206.6 226.5,206.7 226.0,206.9 225.5,207.0 224.8,207.2 224.0,207.4 223.3,207.6 222.5,207.8 221.8,208.0 221.0,208.2 220.3,208.4 Z" fill="rgb(255,85,85)" fill-opacity="0.6" stroke="none"/><path d="M220.3,208.4 L221.5,242.8 L222.7,272.4 L223.8,297.2 L224.8,317.6 L225.7,333.9 L226.7,346.3 L227.5,355.3 L228.1,359.4 L228.6,362.3 L229.1,364.1 L229.6,365.0 L230.0,365.1 L230.5,363.4 L230.9,360.1 L231.4,356.3 L231.8,352.0 L232.2,347.5 L232.6,342.8 L233.0,338.0 L233.5,333.1 L234.3,322.3 L235.2,311.7 L236.2,301.4 L237.1,291.5 L238.0,282.1 L238.9,273.2 L239.8,264.9 L240.8,257.3 L241.7,250.2 L242.7,243.7 L243.7,237.8 L244.6,232.4 L245.6,227.5 L246.6,223.0 L247.6,219.0 L248.6,215.4 L249.6,212.1 L250.6,209.1 L251.6,206.5 L252.6,204.1 L253.6,202.0 L254.6,200.0 L255.7,198.3 L256.7,196.7 L257.7,195.3 L258.7,194.0 L259.7,192.8 L260.8,191.7 L261.8,190.7 L262.8,189.8 L263.8,188.9 L264.9,188.1 L265.9,187.4 L266.9,186.7 L267.9,186.1 L269.0,185.5 L270.0,184.9 L278.2,181.0 L286.4,177.9 L294.6,175.2 L302.7,172.7 L310.8,170.4 L318.9,168.2 L327.0,166.0 L335.1,163.9 L343.1,161.8 L351.1,159.7 L359.1,157.6 L367.0,155.5 L375.0,153.5 L382.9,151.4 L390.8,149.4 L398.6,147.3 L406.5,145.3 L414.3,143.2 L422.1,141.2 L429.9,139.2 L437.6,137.2 L445.3,135.2 L453.0,133.2 L460.7,131.2 L468.4,129.2 L476.0,127.2 L483.6,125.2 L491.2,123.2 L498.8,121.3 L506.3,119.3 L513.9,117.3 L521.4,115.4 L528.9,113.5 L536.3,111.6 L543.8,109.7 L551.2,108.0 L558.6,106.6 L565.9,105.8 L566.9,105.8 L567.8,105.9 L568.7,105.9 L569.6,106.0 L570.5,106.2 L571.4,106.4 L572.3,106.6 L573.3,106.9 L574.2,107.3 L575.1,107.8 L576.0,108.4 L576.9,109.1 L577.8,109.9 L578.7,110.9 L579.6,112.0 L580.5,113.3 L581.4,114.8 L582.3,116.6 L583.2,118.6 L584.0,120.8 L584.9,123.4 L585.8,126.4 L586.7,129.7 L587.5,133.4 L588.4,137.6 L589.2,142.3 L590.1,147.5 L590.9,153.2 L591.7,159.4 L592.6,166.3 L593.4,173.7 L594.2,181.7 L595.0,190.2 L595.8,199.2 L596.5,208.6 L597.3,218.3 L598.1,228.0 L598.4,232.5 L598.8,236.9 L599.2,241.2 L599.5,245.3 L599.9,249.1 L600.2,252.6 L600.6,255.5 L601.0,256.9 L601.4,256.5 L601.9,255.4 L602.3,253.4 L602.7,250.5 L603.2,246.4 L604.0,237.6 L604.8,225.5 L605.6,209.9 L606.5,190.4 L607.5,166.7 L608.5,138.7 L609.6,106.1" fill="none" stroke="#000" stroke-width="1.4" stroke-linejoin="round"/><path d="M220.3,208.4 L609.6,106.1" fill="none" stroke="#000" stroke-width="1.4"/></g>
<g><path d="M257.0,223.3 257.8,223.1 258.5,222.9 259.3,222.7 260.0,222.5 260.8,222.3 261.5,222.1 262.3,221.9 262.7,221.8 263.2,221.6 263.7,221.5 264.2,221.4 264.7,221.2 265.2,221.1 265.6,221.0 266.1,220.8 266.6,220.7 267.1,220.6 267.6,220.5 268.1,220.3 268.5,220.2 269.6,219.9 270.6,219.6 271.7,219.4 272.7,219.1 273.8,218.8 274.8,218.5 275.9,218.2 276.9,218.0 277.9,217.7 279.0,217.4 280.0,217.1 281.1,216.8 282.1,216.6 283.2,216.3 284.2,216.0 285.2,215.7 286.3,215.5 287.3,215.2 288.4,214.9 289.4,214.6 290.4,214.3 291.5,214.1 292.5,213.8 293.5,213.5 294.6,213.2 295.6,213.0 296.7,212.7 297.7,212.4 298.7,212.1 299.8,211.9 300.8,211.6 301.8,211.3 302.9,211.0 303.9,210.7 304.9,210.5 306.0,210.2 307.0,209.9 315.2,207.7 323.5,205.5 331.7,203.3 339.8,201.1 348.0,199.0 356.1,196.8 364.2,194.6 372.3,192.5 380.3,190.3 388.3,188.2 396.3,186.0 404.3,183.9 412.2,181.8 420.2,179.7 428.1,177.6 435.9,175.5 443.8,173.4 451.6,171.3 459.4,169.2 467.2,167.1 475.0,165.0 482.7,162.9 490.5,160.9 498.2,158.8 505.8,156.8 513.5,154.7 521.1,152.7 528.7,150.7 536.3,148.6 543.8,146.6 551.4,144.6 558.9,142.6 566.4,140.6 573.9,138.6 581.3,136.6 588.8,134.6 596.2,132.6 603.6,130.7 604.5,130.4 605.4,130.2 606.3,129.9 607.2,129.7 608.2,129.4 609.1,129.2 610.0,128.9 610.9,128.7 611.8,128.4 612.8,128.2 613.7,127.9 614.6,127.7 615.5,127.5 616.4,127.2 617.3,127.0 618.3,126.7 619.2,126.5 620.1,126.2 621.0,126.0 621.9,125.7 622.8,125.5 623.8,125.3 624.7,125.0 625.6,124.8 626.5,124.5 627.4,124.3 628.3,124.0 629.2,123.8 630.2,123.5 631.1,123.3 632.0,123.1 632.9,122.8 633.8,122.6 634.7,122.3 635.6,122.1 636.5,121.8 637.4,121.6 637.9,121.5 638.3,121.4 638.7,121.3 639.1,121.1 639.5,121.0 640.0,120.9 640.4,120.8 640.8,120.7 641.2,120.6 641.6,120.5 642.1,120.4 642.5,120.2 642.9,120.1 643.5,120.0 644.2,119.8 644.8,119.6 645.5,119.4 646.1,119.3 646.8,119.1 647.4,118.9 L647.4,118.9 646.2,155.2 645.1,186.4 644.0,212.6 643.0,234.3 642.1,251.7 641.2,265.1 640.4,274.8 639.9,279.4 639.5,282.7 639.0,284.8 638.6,286.0 638.2,286.4 637.8,284.9 637.4,281.8 637.1,278.0 636.7,273.8 636.4,269.3 636.0,264.7 635.7,259.9 635.4,255.0 634.6,244.4 633.9,233.7 633.2,223.4 632.4,213.5 631.6,204.1 630.9,195.2 630.1,187.0 629.3,179.4 628.5,172.4 627.7,166.0 626.9,160.1 626.1,154.9 625.2,150.1 624.4,145.9 623.5,142.1 622.7,138.7 621.8,135.7 620.9,133.0 620.0,130.7 619.1,128.7 618.3,126.9 617.3,127.0 616.4,127.2 615.5,127.5 614.6,127.7 613.7,127.9 612.8,128.2 611.8,128.4 610.9,128.7 610.0,128.9 609.1,129.2 608.2,129.4 607.2,129.7 606.3,129.9 605.4,130.2 604.5,130.4 603.6,130.7 596.2,132.6 588.8,134.6 581.3,136.6 573.9,138.6 566.4,140.6 558.9,142.6 551.4,144.6 543.8,146.6 536.3,148.6 528.7,150.7 521.1,152.7 513.5,154.7 505.8,156.8 498.2,158.8 490.5,160.9 482.7,162.9 475.0,165.0 467.2,167.1 459.4,169.2 451.6,171.3 443.8,173.4 435.9,175.5 428.1,177.6 420.2,179.7 412.2,181.8 404.3,183.9 396.3,186.0 388.3,188.2 380.3,190.3 372.3,192.5 364.2,194.6 356.1,196.8 348.0,199.0 339.8,201.1 331.7,203.3 323.5,205.5 315.2,207.7 307.0,209.9 306.0,210.2 304.9,210.5 303.9,210.7 302.9,211.0 301.8,211.3 300.8,211.6 299.8,211.9 298.7,212.1 297.7,212.4 296.7,212.7 295.6,213.0 294.6,213.2 293.5,213.5 292.5,213.8 291.5,215.4 290.5,217.6 289.4,220.1 288.4,222.8 287.4,225.8 286.4,229.1 285.4,232.9 284.4,237.0 283.4,241.5 282.4,246.5 281.4,252.0 280.4,258.1 279.4,264.7 278.5,271.9 277.5,279.8 276.6,288.3 275.6,297.4 274.7,307.2 273.7,317.5 272.8,328.4 271.9,339.7 271.0,351.3 270.0,363.0 269.6,368.3 269.2,373.6 268.8,378.7 268.3,383.6 267.9,388.2 267.5,392.4 267.0,395.9 266.6,397.8 266.1,397.6 265.6,396.6 265.1,394.6 264.6,391.4 264.0,386.9 263.2,376.9 262.3,363.0 261.4,344.9 260.4,322.2 259.3,294.6 258.2,261.7 257.0,223.3 Z" fill="rgb(85,85,255)" fill-opacity="0.6" stroke="none"/><path d="M257.0,223.3 257.8,223.1 258.5,222.9 259.3,222.7 260.0,222.5 260.8,222.3 261.5,222.1 262.3,221.9 262.7,221.8 263.2,221.6 263.7,221.5 264.2,221.4 264.7,221.2 265.2,221.1 265.6,221.0 266.1,220.8 266.6,220.7 267.1,220.6 267.6,220.5 268.1,220.3 268.5,220.2 269.6,219.9 270.6,219.6 271.7,219.4 272.7,219.1 273.8,218.8 274.8,218.5 275.9,218.2 276.9,218.0 277.9,217.7 279.0,217.4 280.0,217.1 281.1,216.8 282.1,216.6 283.2,216.3 284.2,216.0 285.2,215.7 286.3,215.5 287.3,215.2 288.4,214.9 289.4,214.6 290.4,214.3 291.5,214.1 292.5,213.8 293.5,213.5 294.6,213.2 295.6,213.0 296.7,212.7 297.7,212.4 298.7,212.1 299.8,211.9 300.8,211.6 301.8,211.3 302.9,211.0 303.9,210.7 304.9,210.5 306.0,210.2 307.0,209.9 315.2,207.7 323.5,205.5 331.7,203.3 339.8,201.1 348.0,199.0 356.1,196.8 364.2,194.6 372.3,192.5 380.3,190.3 388.3,188.2 396.3,186.0 404.3,183.9 412.2,181.8 420.2,179.7 428.1,177.6 435.9,175.5 443.8,173.4 451.6,171.3 459.4,169.2 467.2,167.1 475.0,165.0 482.7,162.9 490.5,160.9 498.2,158.8 505.8,156.8 513.5,154.7 521.1,152.7 528.7,150.7 536.3,148.6 543.8,146.6 551.4,144.6 558.9,142.6 566.4,140.6 573.9,138.6 581.3,136.6 588.8,134.6 596.2,132.6 603.6,130.7 604.5,130.4 605.4,130.2 606.3,129.9 607.2,129.7 608.2,129.4 609.1,129.2 610.0,128.9 610.9,128.7 611.8,128.4 612.8,128.2 613.7,127.9 614.6,127.7 615.5,127.5 616.4,127.2 617.3,127.0 618.3,126.7 619.2,126.5 620.1,126.2 621.0,126.0 621.9,125.7 622.8,125.5 623.8,125.3 624.7,125.0 625.6,124.8 626.5,124.5 627.4,124.3 628.3,124.0 629.2,123.8 630.2,123.5 631.1,123.3 632.0,123.1 632.9,122.8 633.8,122.6 634.7,122.3 635.6,122.1 636.5,121.8 637.4,121.6 637.9,121.5 638.3,121.4 638.7,121.3 639.1,121.1 639.5,121.0 640.0,120.9 640.4,120.8 640.8,120.7 641.2,120.6 641.6,120.5 642.1,120.4 642.5,120.2 642.9,120.1 643.5,120.0 644.2,119.8 644.8,119.6 645.5,119.4 646.1,119.3 646.8,119.1 647.4,118.9 L647.4,118.9 646.8,119.1 646.1,119.3 645.5,119.4 644.8,119.6 644.2,119.8 643.5,120.0 642.9,120.1 642.5,120.2 642.1,120.4 641.6,120.5 641.2,120.6 640.8,120.7 640.4,120.8 640.0,120.9 639.5,121.0 639.1,121.1 638.7,121.3 638.3,121.4 637.9,121.5 637.4,121.6 636.5,121.8 635.6,122.1 634.7,122.3 633.8,122.6 632.9,122.8 632.0,123.1 631.1,123.3 630.2,123.5 629.2,123.8 628.3,124.0 627.4,124.3 626.5,124.5 625.6,124.8 624.7,125.0 623.8,125.3 622.8,125.5 621.9,125.7 621.0,126.0 620.1,126.2 619.2,126.5 618.3,126.7 617.4,125.3 616.5,124.0 615.6,122.8 614.7,121.9 613.8,121.0 612.9,120.3 612.0,119.7 611.0,119.2 610.1,118.8 609.2,118.4 608.3,118.2 607.4,118.0 606.5,117.8 605.6,117.7 604.6,117.6 603.7,117.6 596.3,118.2 588.9,119.6 581.5,121.3 574.0,123.1 566.6,125.1 559.1,127.0 551.5,129.0 544.0,131.0 536.4,133.0 528.8,135.0 521.2,137.0 513.6,139.0 505.9,141.1 498.2,143.1 490.5,145.1 482.8,147.2 475.1,149.2 467.3,151.3 459.5,153.3 451.7,155.4 443.8,157.5 436.0,159.5 428.1,161.6 420.2,163.7 412.2,165.8 404.3,167.9 396.3,170.0 388.3,172.2 380.3,174.3 372.2,176.4 364.1,178.6 356.0,180.8 347.9,183.1 339.7,185.5 331.6,188.1 323.4,190.9 315.1,194.2 306.9,198.4 305.9,199.0 304.8,199.7 303.8,200.4 302.8,201.2 301.8,202.0 300.7,202.9 299.7,203.8 298.7,204.8 297.6,206.0 296.6,207.2 295.6,208.5 294.6,210.0 293.5,211.7 292.5,213.5 291.5,214.1 290.4,214.3 289.4,214.6 288.4,214.9 287.3,215.2 286.3,215.5 285.2,215.7 284.2,216.0 283.2,216.3 282.1,216.6 281.1,216.8 280.0,217.1 279.0,217.4 277.9,217.7 276.9,218.0 275.9,218.2 274.8,218.5 273.8,218.8 272.7,219.1 271.7,219.4 270.6,219.6 269.6,219.9 268.5,220.2 268.1,220.3 267.6,220.5 267.1,220.6 266.6,220.7 266.1,220.8 265.6,221.0 265.2,221.1 264.7,221.2 264.2,221.4 263.7,221.5 263.2,221.6 262.7,221.8 262.3,221.9 261.5,222.1 260.8,222.3 260.0,222.5 259.3,222.7 258.5,222.9 257.8,223.1 257.0,223.3 Z" fill="rgb(255,85,85)" fill-opacity="0.6" stroke="none"/><path d="M257.0,223.3 L258.2,261.7 L259.3,294.6 L260.4,322.2 L261.4,344.9 L262.3,363.0 L263.2,376.9 L264.0,386.9 L264.6,391.4 L265.1,394.6 L265.6,396.6 L266.1,397.6 L266.6,397.8 L267.0,395.9 L267.5,392.4 L267.9,388.2 L268.3,383.6 L268.8,378.7 L269.2,373.6 L269.6,368.3 L270.0,363.0 L271.0,351.3 L271.9,339.7 L272.8,328.4 L273.7,317.5 L274.7,307.2 L275.6,297.4 L276.6,288.3 L277.5,279.8 L278.5,271.9 L279.4,264.7 L280.4,258.1 L281.4,252.0 L282.4,246.5 L283.4,241.5 L284.4,237.0 L285.4,232.9 L286.4,229.1 L287.4,225.8 L288.4,222.8 L289.4,220.1 L290.5,217.6 L291.5,215.4 L292.5,213.5 L293.5,211.7 L294.6,210.0 L295.6,208.5 L296.6,207.2 L297.6,206.0 L298.7,204.8 L299.7,203.8 L300.7,202.9 L301.8,202.0 L302.8,201.2 L303.8,200.4 L304.8,199.7 L305.9,199.0 L306.9,198.4 L315.1,194.2 L323.4,190.9 L331.6,188.1 L339.7,185.5 L347.9,183.1 L356.0,180.8 L364.1,178.6 L372.2,176.4 L380.3,174.3 L388.3,172.2 L396.3,170.0 L404.3,167.9 L412.2,165.8 L420.2,163.7 L428.1,161.6 L436.0,159.5 L443.8,157.5 L451.7,155.4 L459.5,153.3 L467.3,151.3 L475.1,149.2 L482.8,147.2 L490.5,145.1 L498.2,143.1 L505.9,141.1 L513.6,139.0 L521.2,137.0 L528.8,135.0 L536.4,133.0 L544.0,131.0 L551.5,129.0 L559.1,127.0 L566.6,125.1 L574.0,123.1 L581.5,121.3 L588.9,119.6 L596.3,118.2 L603.7,117.6 L604.6,117.6 L605.6,117.7 L606.5,117.8 L607.4,118.0 L608.3,118.2 L609.2,118.4 L610.1,118.8 L611.0,119.2 L612.0,119.7 L612.9,120.3 L613.8,121.0 L614.7,121.9 L615.6,122.8 L616.5,124.0 L617.4,125.3 L618.3,126.9 L619.1,128.7 L620.0,130.7 L620.9,133.0 L621.8,135.7 L622.7,138.7 L623.5,142.1 L624.4,145.9 L625.2,150.1 L626.1,154.9 L626.9,160.1 L627.7,166.0 L628.5,172.4 L629.3,179.4 L630.1,187.0 L630.9,195.2 L631.6,204.1 L632.4,213.5 L633.2,223.4 L633.9,233.7 L634.6,244.4 L635.4,255.0 L635.7,259.9 L636.0,264.7 L636.4,269.3 L636.7,273.8 L637.1,278.0 L637.4,281.8 L637.8,284.9 L638.2,286.4 L638.6,286.0 L639.0,284.8 L639.5,282.7 L639.9,279.4 L640.4,274.8 L641.2,265.1 L642.1,251.7 L643.0,234.3 L644.0,212.6 L645.1,186.4 L646.2,155.2 L647.4,118.9" fill="none" stroke="#000" stroke-width="1.4" stroke-linejoin="round"/><path d="M257.0,223.3 L647.4,118.9" fill="none" stroke="#000" stroke-width="1.4"/></g>
<g><path d="M294.5,238.5 295.2,238.3 296.0,238.1 296.7,237.9 297.5,237.7 298.3,237.5 299.0,237.3 299.8,237.1 300.2,236.9 300.7,236.8 301.2,236.7 301.7,236.6 302.2,236.4 302.7,236.3 303.2,236.2 303.6,236.0 304.1,235.9 304.6,235.8 305.1,235.6 305.6,235.5 306.1,235.4 307.1,235.1 308.2,234.8 309.2,234.5 310.3,234.2 311.3,233.9 312.4,233.7 313.4,233.4 314.5,233.1 315.5,232.8 316.5,232.5 317.6,232.2 318.6,231.9 319.7,231.7 320.7,231.4 321.8,231.1 322.8,230.8 323.9,230.5 324.9,230.2 325.9,230.0 327.0,229.7 328.0,229.4 329.1,229.1 330.1,228.8 331.2,228.5 332.2,228.3 333.2,228.0 334.3,227.7 335.3,227.4 336.4,227.1 337.4,226.8 338.4,226.6 339.5,226.3 340.5,226.0 341.5,225.7 342.6,225.4 343.6,225.2 344.7,224.9 352.9,222.6 361.2,220.4 369.4,218.1 377.6,215.9 385.8,213.7 393.9,211.5 402.0,209.3 410.1,207.1 418.2,204.9 426.2,202.7 434.3,200.5 442.3,198.3 450.2,196.2 458.2,194.0 466.1,191.8 474.0,189.7 481.9,187.6 489.7,185.4 497.6,183.3 505.4,181.2 513.2,179.0 520.9,176.9 528.7,174.8 536.4,172.7 544.1,170.6 551.7,168.6 559.4,166.5 567.0,164.4 574.6,162.3 582.2,160.3 589.7,158.2 597.3,156.2 604.8,154.1 612.3,152.1 619.8,150.1 627.2,148.0 634.6,146.0 642.0,144.0 643.0,143.7 643.9,143.5 644.8,143.2 645.7,143.0 646.6,142.7 647.6,142.5 648.5,142.2 649.4,142.0 650.3,141.7 651.3,141.5 652.2,141.2 653.1,141.0 654.0,140.7 654.9,140.5 655.9,140.2 656.8,140.0 657.7,139.7 658.6,139.5 659.5,139.2 660.4,139.0 661.4,138.7 662.3,138.5 663.2,138.2 664.1,138.0 665.0,137.7 665.9,137.5 666.9,137.2 667.8,137.0 668.7,136.8 669.6,136.5 670.5,136.3 671.4,136.0 672.3,135.8 673.3,135.5 674.2,135.3 675.1,135.0 676.0,134.8 676.4,134.6 676.8,134.5 677.3,134.4 677.7,134.3 678.1,134.2 678.5,134.1 678.9,134.0 679.4,133.8 679.8,133.7 680.2,133.6 680.6,133.5 681.0,133.4 681.5,133.3 682.1,133.1 682.8,132.9 683.4,132.7 684.1,132.6 684.7,132.4 685.4,132.2 686.0,132.0 L686.0,132.0 684.6,171.4 683.3,205.1 682.2,233.5 681.1,257.0 680.1,275.8 679.2,290.2 678.3,300.8 677.8,305.7 677.3,309.2 676.9,311.5 676.5,312.8 676.0,313.3 675.6,311.8 675.3,308.7 674.9,305.0 674.6,300.8 674.3,296.4 673.9,291.7 673.6,287.0 673.3,282.1 672.6,271.3 671.9,260.5 671.2,250.0 670.5,239.7 669.7,229.9 669.0,220.6 668.3,211.9 667.5,203.7 666.7,196.1 665.9,189.1 665.2,182.6 664.3,176.7 663.5,171.3 662.7,166.4 661.9,162.0 661.0,158.0 660.2,154.5 659.3,151.3 658.5,148.4 657.6,145.9 656.7,143.7 655.8,141.7 654.9,140.5 654.0,140.7 653.1,141.0 652.2,141.2 651.3,141.5 650.3,141.7 649.4,142.0 648.5,142.2 647.6,142.5 646.6,142.7 645.7,143.0 644.8,143.2 643.9,143.5 643.0,143.7 642.0,144.0 634.6,146.0 627.2,148.0 619.8,150.1 612.3,152.1 604.8,154.1 597.3,156.2 589.7,158.2 582.2,160.3 574.6,162.3 567.0,164.4 559.4,166.5 551.7,168.6 544.1,170.6 536.4,172.7 528.7,174.8 520.9,176.9 513.2,179.0 505.4,181.2 497.6,183.3 489.7,185.4 481.9,187.6 474.0,189.7 466.1,191.8 458.2,194.0 450.2,196.2 442.3,198.3 434.3,200.5 426.2,202.7 418.2,204.9 410.1,207.1 402.0,209.3 393.9,211.5 385.8,213.7 377.6,215.9 369.4,218.1 361.2,220.4 352.9,222.6 344.7,224.9 343.6,225.2 342.6,225.4 341.5,225.7 340.5,226.0 339.5,226.3 338.4,226.6 337.4,226.8 336.4,227.1 335.3,227.4 334.3,227.7 333.2,228.0 332.2,228.3 331.2,228.5 330.1,228.8 329.1,231.2 328.1,233.8 327.0,236.8 326.0,240.0 325.0,243.5 324.0,247.4 323.0,251.7 321.9,256.5 320.9,261.7 319.9,267.4 318.9,273.7 317.9,280.5 316.9,287.8 316.0,295.8 315.0,304.4 314.0,313.7 313.0,323.5 312.1,333.9 311.1,344.9 310.1,356.4 309.2,368.2 308.2,380.2 307.3,392.2 306.8,397.7 306.4,403.1 306.0,408.3 305.5,413.3 305.1,418.0 304.6,422.2 304.2,425.8 303.7,427.7 303.2,427.5 302.8,426.4 302.3,424.2 301.7,420.7 301.2,415.8 300.4,405.0 299.5,390.0 298.6,370.3 297.7,345.7 296.7,315.8 295.6,280.2 294.5,238.5 Z" fill="rgb(85,85,255)" fill-opacity="0.6" stroke="none"/><path d="M294.5,238.5 295.2,238.3 296.0,238.1 296.7,237.9 297.5,237.7 298.3,237.5 299.0,237.3 299.8,237.1 300.2,236.9 300.7,236.8 301.2,236.7 301.7,236.6 302.2,236.4 302.7,236.3 303.2,236.2 303.6,236.0 304.1,235.9 304.6,235.8 305.1,235.6 305.6,235.5 306.1,235.4 307.1,235.1 308.2,234.8 309.2,234.5 310.3,234.2 311.3,233.9 312.4,233.7 313.4,233.4 314.5,233.1 315.5,232.8 316.5,232.5 317.6,232.2 318.6,231.9 319.7,231.7 320.7,231.4 321.8,231.1 322.8,230.8 323.9,230.5 324.9,230.2 325.9,230.0 327.0,229.7 328.0,229.4 329.1,229.1 330.1,228.8 331.2,228.5 332.2,228.3 333.2,228.0 334.3,227.7 335.3,227.4 336.4,227.1 337.4,226.8 338.4,226.6 339.5,226.3 340.5,226.0 341.5,225.7 342.6,225.4 343.6,225.2 344.7,224.9 352.9,222.6 361.2,220.4 369.4,218.1 377.6,215.9 385.8,213.7 393.9,211.5 402.0,209.3 410.1,207.1 418.2,204.9 426.2,202.7 434.3,200.5 442.3,198.3 450.2,196.2 458.2,194.0 466.1,191.8 474.0,189.7 481.9,187.6 489.7,185.4 497.6,183.3 505.4,181.2 513.2,179.0 520.9,176.9 528.7,174.8 536.4,172.7 544.1,170.6 551.7,168.6 559.4,166.5 567.0,164.4 574.6,162.3 582.2,160.3 589.7,158.2 597.3,156.2 604.8,154.1 612.3,152.1 619.8,150.1 627.2,148.0 634.6,146.0 642.0,144.0 643.0,143.7 643.9,143.5 644.8,143.2 645.7,143.0 646.6,142.7 647.6,142.5 648.5,142.2 649.4,142.0 650.3,141.7 651.3,141.5 652.2,141.2 653.1,141.0 654.0,140.7 654.9,140.5 655.9,140.2 656.8,140.0 657.7,139.7 658.6,139.5 659.5,139.2 660.4,139.0 661.4,138.7 662.3,138.5 663.2,138.2 664.1,138.0 665.0,137.7 665.9,137.5 666.9,137.2 667.8,137.0 668.7,136.8 669.6,136.5 670.5,136.3 671.4,136.0 672.3,135.8 673.3,135.5 674.2,135.3 675.1,135.0 676.0,134.8 676.4,134.6 676.8,134.5 677.3,134.4 677.7,134.3 678.1,134.2 678.5,134.1 678.9,134.0 679.4,133.8 679.8,133.7 680.2,133.6 680.6,133.5 681.0,133.4 681.5,133.3 682.1,133.1 682.8,132.9 683.4,132.7 684.1,132.6 684.7,132.4 685.4,132.2 686.0,132.0 L686.0,132.0 685.4,132.2 684.7,132.4 684.1,132.6 683.4,132.7 682.8,132.9 682.1,133.1 681.5,133.3 681.0,133.4 680.6,133.5 680.2,133.6 679.8,133.7 679.4,133.8 678.9,134.0 678.5,134.1 678.1,134.2 677.7,134.3 677.3,134.4 676.8,134.5 676.4,134.6 676.0,134.8 675.1,135.0 674.2,135.3 673.3,135.5 672.3,135.8 671.4,136.0 670.5,136.3 669.6,136.5 668.7,136.8 667.8,137.0 666.9,137.2 665.9,137.5 665.0,137.7 664.1,138.0 663.2,138.2 662.3,138.5 661.4,138.7 660.4,139.0 659.5,139.2 658.6,139.5 657.7,139.7 656.8,140.0 655.9,140.2 654.9,140.0 654.1,138.4 653.2,137.1 652.3,135.9 651.4,134.9 650.5,134.1 649.6,133.3 648.6,132.7 647.7,132.2 646.8,131.8 645.9,131.4 645.0,131.1 644.1,130.9 643.2,130.7 642.2,130.5 634.9,130.6 627.4,131.9 620.0,133.5 612.5,135.4 605.0,137.3 597.5,139.3 590.0,141.3 582.4,143.3 574.8,145.4 567.2,147.4 559.6,149.5 551.9,151.5 544.2,153.6 536.5,155.7 528.8,157.7 521.0,159.8 513.3,161.9 505.5,164.0 497.7,166.1 489.8,168.2 482.0,170.3 474.1,172.4 466.2,174.6 458.2,176.7 450.3,178.8 442.3,181.0 434.3,183.1 426.2,185.3 418.2,187.5 410.1,189.6 402.0,191.8 393.9,194.0 385.7,196.3 377.5,198.6 369.3,201.0 361.1,203.6 352.9,206.8 344.6,211.2 343.5,211.9 342.5,212.6 341.5,213.4 340.4,214.3 339.4,215.2 338.4,216.2 337.3,217.3 336.3,218.6 335.3,219.9 334.2,221.3 333.2,223.0 332.2,224.7 331.1,226.7 330.1,228.8 329.1,229.1 328.0,229.4 327.0,229.7 325.9,230.0 324.9,230.2 323.9,230.5 322.8,230.8 321.8,231.1 320.7,231.4 319.7,231.7 318.6,231.9 317.6,232.2 316.5,232.5 315.5,232.8 314.5,233.1 313.4,233.4 312.4,233.7 311.3,233.9 310.3,234.2 309.2,234.5 308.2,234.8 307.1,235.1 306.1,235.4 305.6,235.5 305.1,235.6 304.6,235.8 304.1,235.9 303.6,236.0 303.2,236.2 302.7,236.3 302.2,236.4 301.7,236.6 301.2,236.7 300.7,236.8 300.2,236.9 299.8,237.1 299.0,237.3 298.3,237.5 297.5,237.7 296.7,237.9 296.0,238.1 295.2,238.3 294.5,238.5 Z" fill="rgb(255,85,85)" fill-opacity="0.6" stroke="none"/><path d="M294.5,238.5 L295.6,280.2 L296.7,315.8 L297.7,345.7 L298.6,370.3 L299.5,390.0 L300.4,405.0 L301.2,415.8 L301.7,420.7 L302.3,424.2 L302.8,426.4 L303.2,427.5 L303.7,427.7 L304.2,425.8 L304.6,422.2 L305.1,418.0 L305.5,413.3 L306.0,408.3 L306.4,403.1 L306.8,397.7 L307.3,392.2 L308.2,380.2 L309.2,368.2 L310.1,356.4 L311.1,344.9 L312.1,333.9 L313.0,323.5 L314.0,313.7 L315.0,304.4 L316.0,295.8 L316.9,287.8 L317.9,280.5 L318.9,273.7 L319.9,267.4 L320.9,261.7 L321.9,256.5 L323.0,251.7 L324.0,247.4 L325.0,243.5 L326.0,240.0 L327.0,236.8 L328.1,233.8 L329.1,231.2 L330.1,228.8 L331.1,226.7 L332.2,224.7 L333.2,223.0 L334.2,221.3 L335.3,219.9 L336.3,218.6 L337.3,217.3 L338.4,216.2 L339.4,215.2 L340.4,214.3 L341.5,213.4 L342.5,212.6 L343.5,211.9 L344.6,211.2 L352.9,206.8 L361.1,203.6 L369.3,201.0 L377.5,198.6 L385.7,196.3 L393.9,194.0 L402.0,191.8 L410.1,189.6 L418.2,187.5 L426.2,185.3 L434.3,183.1 L442.3,181.0 L450.3,178.8 L458.2,176.7 L466.2,174.6 L474.1,172.4 L482.0,170.3 L489.8,168.2 L497.7,166.1 L505.5,164.0 L513.3,161.9 L521.0,159.8 L528.8,157.7 L536.5,155.7 L544.2,153.6 L551.9,151.5 L559.6,149.5 L567.2,147.4 L574.8,145.4 L582.4,143.3 L590.0,141.3 L597.5,139.3 L605.0,137.3 L612.5,135.4 L620.0,133.5 L627.4,131.9 L634.9,130.6 L642.2,130.5 L643.2,130.7 L644.1,130.9 L645.0,131.1 L645.9,131.4 L646.8,131.8 L647.7,132.2 L648.6,132.7 L649.6,133.3 L650.5,134.1 L651.4,134.9 L652.3,135.9 L653.2,137.1 L654.1,138.4 L654.9,140.0 L655.8,141.7 L656.7,143.7 L657.6,145.9 L658.5,148.4 L659.3,151.3 L660.2,154.5 L661.0,158.0 L661.9,162.0 L662.7,166.4 L663.5,171.3 L664.3,176.7 L665.2,182.6 L665.9,189.1 L666.7,196.1 L667.5,203.7 L668.3,211.9 L669.0,220.6 L669.7,229.9 L670.5,239.7 L671.2,250.0 L671.9,260.5 L672.6,271.3 L673.3,282.1 L673.6,287.0 L673.9,291.7 L674.3,296.4 L674.6,300.8 L674.9,305.0 L675.3,308.7 L675.6,311.8 L676.0,313.3 L676.5,312.8 L676.9,311.5 L677.3,309.2 L677.8,305.7 L678.3,300.8 L679.2,290.2 L680.1,275.8 L681.1,257.0 L682.2,233.5 L683.3,205.1 L684.6,171.4 L686.0,132.0" fill="none" stroke="#000" stroke-width="1.4" stroke-linejoin="round"/><path d="M294.5,238.5 L686.0,132.0" fill="none" stroke="#000" stroke-width="1.4"/></g>
<g><path d="M332.8,254.1 333.5,253.9 334.3,253.6 335.0,253.4 335.8,253.2 336.5,253.0 337.3,252.8 338.1,252.6 338.5,252.5 339.0,252.3 339.5,252.2 340.0,252.1 340.5,251.9 341.0,251.8 341.5,251.7 341.9,251.5 342.4,251.4 342.9,251.3 343.4,251.1 343.9,251.0 344.4,250.9 345.4,250.6 346.5,250.3 347.5,250.0 348.6,249.7 349.6,249.4 350.7,249.1 351.7,248.8 352.8,248.5 353.9,248.2 354.9,247.9 356.0,247.6 357.0,247.4 358.0,247.1 359.1,246.8 360.1,246.5 361.2,246.2 362.2,245.9 363.3,245.6 364.3,245.3 365.4,245.0 366.4,244.8 367.5,244.5 368.5,244.2 369.6,243.9 370.6,243.6 371.6,243.3 372.7,243.0 373.7,242.7 374.8,242.4 375.8,242.2 376.9,241.9 377.9,241.6 378.9,241.3 380.0,241.0 381.0,240.7 382.1,240.4 383.1,240.1 391.4,237.8 399.7,235.5 407.9,233.3 416.1,231.0 424.3,228.7 432.5,226.5 440.6,224.2 448.8,222.0 456.9,219.7 464.9,217.5 473.0,215.3 481.0,213.0 489.0,210.8 497.0,208.6 504.9,206.4 512.8,204.2 520.7,202.0 528.6,199.9 536.5,197.7 544.3,195.5 552.1,193.4 559.9,191.2 567.6,189.1 575.4,186.9 583.1,184.8 590.8,182.7 598.4,180.5 606.1,178.4 613.7,176.3 621.3,174.2 628.9,172.1 636.4,170.0 644.0,167.9 651.5,165.9 658.9,163.8 666.4,161.7 673.9,159.7 681.3,157.6 682.2,157.4 683.1,157.1 684.1,156.8 685.0,156.6 685.9,156.3 686.8,156.1 687.7,155.8 688.7,155.6 689.6,155.3 690.5,155.1 691.4,154.8 692.4,154.5 693.3,154.3 694.2,154.0 695.1,153.8 696.0,153.5 697.0,153.3 697.9,153.0 698.8,152.8 699.7,152.5 700.6,152.3 701.6,152.0 702.5,151.7 703.4,151.5 704.3,151.2 705.2,151.0 706.2,150.7 707.1,150.5 708.0,150.2 708.9,150.0 709.8,149.7 710.7,149.5 711.7,149.2 712.6,149.0 713.5,148.7 714.4,148.4 715.3,148.2 715.7,148.1 716.2,148.0 716.6,147.8 717.0,147.7 717.4,147.6 717.8,147.5 718.3,147.4 718.7,147.3 719.1,147.1 719.5,147.0 719.9,146.9 720.4,146.8 720.8,146.7 721.4,146.5 722.1,146.3 722.7,146.1 723.4,146.0 724.0,145.8 724.7,145.6 725.3,145.4 L725.3,145.4 723.8,186.3 722.4,221.3 721.1,250.8 719.9,275.1 718.9,294.7 717.9,309.7 717.0,320.6 716.5,325.7 716.0,329.4 715.6,331.8 715.1,333.1 714.7,333.6 714.3,332.1 714.0,329.1 713.6,325.5 713.3,321.5 713.0,317.1 712.7,312.6 712.3,307.9 712.0,303.1 711.4,292.5 710.7,281.8 710.0,271.3 709.3,261.0 708.6,251.1 707.9,241.7 707.2,232.8 706.5,224.4 705.7,216.5 705.0,209.2 704.2,202.4 703.4,196.1 702.6,190.4 701.8,185.1 701.0,180.3 700.2,176.0 699.3,172.0 698.5,168.5 697.6,165.3 696.8,162.4 695.9,159.9 695.1,157.6 694.2,155.5 693.3,154.3 692.4,154.5 691.4,154.8 690.5,155.1 689.6,155.3 688.7,155.6 687.7,155.8 686.8,156.1 685.9,156.3 685.0,156.6 684.1,156.8 683.1,157.1 682.2,157.4 681.3,157.6 673.9,159.7 666.4,161.7 658.9,163.8 651.5,165.9 644.0,167.9 636.4,170.0 628.9,172.1 621.3,174.2 613.7,176.3 606.1,178.4 598.4,180.5 590.8,182.7 583.1,184.8 575.4,186.9 567.6,189.1 559.9,191.2 552.1,193.4 544.3,195.5 536.5,197.7 528.6,199.9 520.7,202.0 512.8,204.2 504.9,206.4 497.0,208.6 489.0,210.8 481.0,213.0 473.0,215.3 464.9,217.5 456.9,219.7 448.8,222.0 440.6,224.2 432.5,226.5 424.3,228.7 416.1,231.0 407.9,233.3 399.7,235.5 391.4,237.8 383.1,240.1 382.1,240.4 381.0,240.7 380.0,241.0 378.9,241.3 377.9,241.6 376.9,241.9 375.8,242.2 374.8,242.4 373.7,242.7 372.7,243.0 371.6,243.3 370.6,243.6 369.6,243.9 368.5,244.5 367.5,247.2 366.4,250.2 365.4,253.5 364.4,257.1 363.3,261.1 362.3,265.5 361.3,270.2 360.3,275.5 359.2,281.2 358.2,287.4 357.2,294.2 356.2,301.5 355.2,309.3 354.2,317.8 353.1,326.8 352.1,336.4 351.1,346.6 350.2,357.3 349.2,368.5 348.2,380.1 347.2,391.9 346.2,403.9 345.2,415.9 344.8,421.3 344.3,426.6 343.9,431.7 343.4,436.6 342.9,441.2 342.5,445.3 342.0,448.8 341.5,450.7 341.1,450.4 340.6,449.3 340.1,447.0 339.6,443.4 339.1,438.3 338.3,427.1 337.4,411.5 336.6,391.1 335.7,365.5 334.7,334.4 333.8,297.4 332.8,254.1 Z" fill="rgb(85,85,255)" fill-opacity="0.6" stroke="none"/><path d="M332.8,254.1 333.5,253.9 334.3,253.6 335.0,253.4 335.8,253.2 336.5,253.0 337.3,252.8 338.1,252.6 338.5,252.5 339.0,252.3 339.5,252.2 340.0,252.1 340.5,251.9 341.0,251.8 341.5,251.7 341.9,251.5 342.4,251.4 342.9,251.3 343.4,251.1 343.9,251.0 344.4,250.9 345.4,250.6 346.5,250.3 347.5,250.0 348.6,249.7 349.6,249.4 350.7,249.1 351.7,248.8 352.8,248.5 353.9,248.2 354.9,247.9 356.0,247.6 357.0,247.4 358.0,247.1 359.1,246.8 360.1,246.5 361.2,246.2 362.2,245.9 363.3,245.6 364.3,245.3 365.4,245.0 366.4,244.8 367.5,244.5 368.5,244.2 369.6,243.9 370.6,243.6 371.6,243.3 372.7,243.0 373.7,242.7 374.8,242.4 375.8,242.2 376.9,241.9 377.9,241.6 378.9,241.3 380.0,241.0 381.0,240.7 382.1,240.4 383.1,240.1 391.4,237.8 399.7,235.5 407.9,233.3 416.1,231.0 424.3,228.7 432.5,226.5 440.6,224.2 448.8,222.0 456.9,219.7 464.9,217.5 473.0,215.3 481.0,213.0 489.0,210.8 497.0,208.6 504.9,206.4 512.8,204.2 520.7,202.0 528.6,199.9 536.5,197.7 544.3,195.5 552.1,193.4 559.9,191.2 567.6,189.1 575.4,186.9 583.1,184.8 590.8,182.7 598.4,180.5 606.1,178.4 613.7,176.3 621.3,174.2 628.9,172.1 636.4,170.0 644.0,167.9 651.5,165.9 658.9,163.8 666.4,161.7 673.9,159.7 681.3,157.6 682.2,157.4 683.1,157.1 684.1,156.8 685.0,156.6 685.9,156.3 686.8,156.1 687.7,155.8 688.7,155.6 689.6,155.3 690.5,155.1 691.4,154.8 692.4,154.5 693.3,154.3 694.2,154.0 695.1,153.8 696.0,153.5 697.0,153.3 697.9,153.0 698.8,152.8 699.7,152.5 700.6,152.3 701.6,152.0 702.5,151.7 703.4,151.5 704.3,151.2 705.2,151.0 706.2,150.7 707.1,150.5 708.0,150.2 708.9,150.0 709.8,149.7 710.7,149.5 711.7,149.2 712.6,149.0 713.5,148.7 714.4,148.4 715.3,148.2 715.7,148.1 716.2,148.0 716.6,147.8 717.0,147.7 717.4,147.6 717.8,147.5 718.3,147.4 718.7,147.3 719.1,147.1 719.5,147.0 719.9,146.9 720.4,146.8 720.8,146.7 721.4,146.5 722.1,146.3 722.7,146.1 723.4,146.0 724.0,145.8 724.7,145.6 725.3,145.4 L725.3,145.4 724.7,145.6 724.0,145.8 723.4,146.0 722.7,146.1 722.1,146.3 721.4,146.5 720.8,146.7 720.4,146.8 719.9,146.9 719.5,147.0 719.1,147.1 718.7,147.3 718.3,147.4 717.8,147.5 717.4,147.6 717.0,147.7 716.6,147.8 716.2,148.0 715.7,148.1 715.3,148.2 714.4,148.4 713.5,148.7 712.6,149.0 711.7,149.2 710.7,149.5 709.8,149.7 708.9,150.0 708.0,150.2 707.1,150.5 706.2,150.7 705.2,151.0 704.3,151.2 703.4,151.5 702.5,151.7 701.6,152.0 700.6,152.3 699.7,152.5 698.8,152.8 697.9,153.0 697.0,153.3 696.0,153.5 695.1,153.8 694.2,154.0 693.3,153.7 692.4,152.1 691.5,150.7 690.6,149.5 689.7,148.4 688.8,147.5 687.9,146.7 687.0,146.0 686.1,145.4 685.2,144.9 684.3,144.5 683.4,144.1 682.5,143.9 681.5,143.6 674.2,143.2 666.7,144.2 659.3,145.8 651.8,147.7 644.3,149.6 636.7,151.6 629.2,153.7 621.6,155.7 614.0,157.8 606.3,159.9 598.7,162.0 591.0,164.1 583.3,166.2 575.6,168.3 567.8,170.4 560.1,172.5 552.3,174.7 544.5,176.8 536.6,178.9 528.8,181.1 520.9,183.2 513.0,185.4 505.0,187.6 497.1,189.7 489.1,191.9 481.1,194.1 473.1,196.3 465.0,198.5 456.9,200.7 448.8,202.9 440.7,205.1 432.5,207.4 424.3,209.6 416.1,211.9 407.9,214.3 399.6,216.9 391.4,220.0 383.1,224.5 382.0,225.2 381.0,226.0 379.9,226.9 378.9,227.9 377.9,228.9 376.8,230.1 375.8,231.3 374.7,232.7 373.7,234.2 372.7,235.9 371.6,237.7 370.6,239.8 369.6,242.0 368.5,244.2 367.5,244.5 366.4,244.8 365.4,245.0 364.3,245.3 363.3,245.6 362.2,245.9 361.2,246.2 360.1,246.5 359.1,246.8 358.0,247.1 357.0,247.4 356.0,247.6 354.9,247.9 353.9,248.2 352.8,248.5 351.7,248.8 350.7,249.1 349.6,249.4 348.6,249.7 347.5,250.0 346.5,250.3 345.4,250.6 344.4,250.9 343.9,251.0 343.4,251.1 342.9,251.3 342.4,251.4 341.9,251.5 341.5,251.7 341.0,251.8 340.5,251.9 340.0,252.1 339.5,252.2 339.0,252.3 338.5,252.5 338.1,252.6 337.3,252.8 336.5,253.0 335.8,253.2 335.0,253.4 334.3,253.6 333.5,253.9 332.8,254.1 Z" fill="rgb(255,85,85)" fill-opacity="0.6" stroke="none"/><path d="M332.8,254.1 L333.8,297.4 L334.7,334.4 L335.7,365.5 L336.6,391.1 L337.4,411.5 L338.3,427.1 L339.1,438.3 L339.6,443.4 L340.1,447.0 L340.6,449.3 L341.1,450.4 L341.5,450.7 L342.0,448.8 L342.5,445.3 L342.9,441.2 L343.4,436.6 L343.9,431.7 L344.3,426.6 L344.8,421.3 L345.2,415.9 L346.2,403.9 L347.2,391.9 L348.2,380.1 L349.2,368.5 L350.2,357.3 L351.1,346.6 L352.1,336.4 L353.1,326.8 L354.2,317.8 L355.2,309.3 L356.2,301.5 L357.2,294.2 L358.2,287.4 L359.2,281.2 L360.3,275.5 L361.3,270.2 L362.3,265.5 L363.3,261.1 L364.4,257.1 L365.4,253.5 L366.4,250.2 L367.5,247.2 L368.5,244.5 L369.6,242.0 L370.6,239.8 L371.6,237.7 L372.7,235.9 L373.7,234.2 L374.7,232.7 L375.8,231.3 L376.8,230.1 L377.9,228.9 L378.9,227.9 L379.9,226.9 L381.0,226.0 L382.0,225.2 L383.1,224.5 L391.4,220.0 L399.6,216.9 L407.9,214.3 L416.1,211.9 L424.3,209.6 L432.5,207.4 L440.7,205.1 L448.8,202.9 L456.9,200.7 L465.0,198.5 L473.1,196.3 L481.1,194.1 L489.1,191.9 L497.1,189.7 L505.0,187.6 L513.0,185.4 L520.9,183.2 L528.8,181.1 L536.6,178.9 L544.5,176.8 L552.3,174.7 L560.1,172.5 L567.8,170.4 L575.6,168.3 L583.3,166.2 L591.0,164.1 L598.7,162.0 L606.3,159.9 L614.0,157.8 L621.6,155.7 L629.2,153.7 L636.7,151.6 L644.3,149.6 L651.8,147.7 L659.3,145.8 L666.7,144.2 L674.2,143.2 L681.5,143.6 L682.5,143.9 L683.4,144.1 L684.3,144.5 L685.2,144.9 L686.1,145.4 L687.0,146.0 L687.9,146.7 L688.8,147.5 L689.7,148.4 L690.6,149.5 L691.5,150.7 L692.4,152.1 L693.3,153.7 L694.2,155.5 L695.1,157.6 L695.9,159.9 L696.8,162.4 L697.6,165.3 L698.5,168.5 L699.3,172.0 L700.2,176.0 L701.0,180.3 L701.8,185.1 L702.6,190.4 L703.4,196.1 L704.2,202.4 L705.0,209.2 L705.7,216.5 L706.5,224.4 L707.2,232.8 L707.9,241.7 L708.6,251.1 L709.3,261.0 L710.0,271.3 L710.7,281.8 L711.4,292.5 L712.0,303.1 L712.3,307.9 L712.7,312.6 L713.0,317.1 L713.3,321.5 L713.6,325.5 L714.0,329.1 L714.3,332.1 L714.7,333.6 L715.1,333.1 L715.6,331.8 L716.0,329.4 L716.5,325.7 L717.0,320.6 L717.9,309.7 L718.9,294.7 L719.9,275.1 L721.1,250.8 L722.4,221.3 L723.8,186.3 L725.3,145.4" fill="none" stroke="#000" stroke-width="1.4" stroke-linejoin="round"/><path d="M332.8,254.1 L725.3,145.4" fill="none" stroke="#000" stroke-width="1.4"/></g>
<g><path d="M652.2,181.3 L654.1,181.0 L655.8,181.3 L657.3,182.0 L658.4,183.3 L659.1,184.8 L659.3,186.7 L657.0,339.0 L656.7,341.0 L656.0,343.0 L654.9,344.8 L653.4,346.4 L651.6,347.7 L649.8,348.5 L379.6,431.5 L377.6,431.9 L375.7,431.7 L374.1,431.0 L372.8,429.8 L372.1,428.2 L371.8,426.3 L371.9,267.3 L372.2,265.2 L372.9,263.2 L374.2,261.2 L375.8,259.5 L377.7,258.2 L379.7,257.4 Z" fill="#fff" stroke="#000" stroke-width="2.5" stroke-linejoin="round"/>
<path d="M475.7,239.7 L474.9,369.2 M533.9,223.4 L532.8,351.7 M591.0,207.3 L589.5,334.6 M410.6,379.7 L645.8,309.0 M410.6,356.5 L646.2,286.6 M410.7,333.2 L646.5,264.1 M410.7,309.9 L646.8,241.6 M410.8,286.5 L647.1,219.0" fill="none" stroke="#000" stroke-width="0.9" stroke-dasharray="1.4 2.1"/>
<path d="M410.9,257.9 L647.5,191.5 L645.7,317.6 L410.5,388.6 Z" fill="none" stroke="#000" stroke-width="0.8"/>
<path d="M416.0,378.1 L647.1,191.3" fill="none" stroke="#ff8f96" stroke-width="2.6" stroke-linecap="butt"/>
<path d="M416.0,378.1 L422.0,373.3 L427.9,368.5 L433.9,363.7 L439.8,359.0 L445.7,354.2 L451.6,349.6 L457.5,345.0 L463.4,340.5 L469.3,336.1 L475.1,332.0 L481.0,328.1 L486.9,324.4 L492.7,321.0 L498.5,317.9 L504.3,315.0 L510.1,312.2 L515.9,309.7 L521.7,307.3 L527.4,305.1 L533.2,302.9 L538.9,300.9 L544.7,298.9 L550.4,296.9 L556.1,295.0 L561.8,293.2 L567.5,291.4 L573.2,289.6 L578.8,287.8 L584.5,286.1 L590.1,284.3 L595.8,282.6 L601.4,280.9 L607.0,279.2 L612.6,277.5 L618.2,275.9 L623.8,274.2 L629.3,272.5 L634.9,270.9 L640.4,269.2 L646.0,267.6" fill="none" stroke="#0a8a0a" stroke-width="3" stroke-linejoin="round"/>
<path d="M419.7,268.4 L466.1,255.2 L465.9,282.2 L419.6,295.5 Z" fill="#fff" stroke="#bdbdbd" stroke-width="0.8"/>
<path d="M422.7,275.5 L432.9,272.5" fill="none" stroke="#ff8f96" stroke-width="2.4"/>
<path d="M422.6,287.7 L432.9,284.7" fill="none" stroke="#0a8a0a" stroke-width="2.6"/></g><g opacity="0.999"><text transform="matrix(1.0230 -0.2914 -0.0039 1.0150 437.01 275.54)" font-size="11.2" font-weight="bold" font-style="normal" text-anchor="start" fill="#ff8f96" >QAH</text>
<text transform="matrix(1.0210 -0.2928 -0.0041 1.0131 441.05 286.54)" font-size="11.2" font-weight="bold" font-style="normal" text-anchor="start" fill="#0a8a0a" >QH</text>
<text transform="matrix(1.0234 -0.3108 -0.0029 1.0059 417.48 397.98)" font-size="11" font-weight="bold" font-style="normal" text-anchor="middle" fill="#000" >0</text>
<text transform="matrix(1.0045 -0.3051 -0.0058 0.9975 474.87 380.55)" font-size="11" font-weight="bold" font-style="normal" text-anchor="middle" fill="#000" >1</text>
<text transform="matrix(0.9856 -0.2994 -0.0086 0.9889 532.68 362.99)" font-size="11" font-weight="bold" font-style="normal" text-anchor="middle" fill="#000" >2</text>
<text transform="matrix(0.9673 -0.2938 -0.0113 0.9806 589.41 345.76)" font-size="11" font-weight="bold" font-style="normal" text-anchor="middle" fill="#000" >3</text>
<text transform="matrix(0.9499 -0.2885 -0.0139 0.9725 643.66 329.28)" font-size="11" font-weight="bold" font-style="normal" text-anchor="middle" fill="#000" >4</text>
<text transform="matrix(1.0270 -0.3092 -0.0025 1.0089 409.02 384.03)" font-size="11" font-weight="bold" font-style="normal" text-anchor="end" fill="#000" >0</text>
<text transform="matrix(1.0282 -0.3057 -0.0025 1.0112 409.07 360.80)" font-size="11" font-weight="bold" font-style="normal" text-anchor="end" fill="#000" >10</text>
<text transform="matrix(1.0294 -0.3022 -0.0025 1.0136 409.13 337.51)" font-size="11" font-weight="bold" font-style="normal" text-anchor="end" fill="#000" >20</text>
<text transform="matrix(1.0306 -0.2987 -0.0025 1.0160 409.19 314.17)" font-size="11" font-weight="bold" font-style="normal" text-anchor="end" fill="#000" >30</text>
<text transform="matrix(1.0318 -0.2951 -0.0025 1.0184 409.25 290.78)" font-size="11" font-weight="bold" font-style="normal" text-anchor="end" fill="#000" >40</text>
<text transform="matrix(1.0331 -0.2916 -0.0025 1.0208 409.30 267.33)" font-size="11" font-weight="bold" font-style="normal" text-anchor="end" fill="#000" >50</text>
<text transform="matrix(0.9857 -0.3013 -0.0085 0.9880 530.60 375.75)" font-size="12.5" font-weight="normal" font-style="normal" text-anchor="middle" fill="#000" stroke="#000" stroke-width="0.4">Δ<tspan font-style="italic">H</tspan>[T]</text>
<text transform="matrix(0.0016 -1.0177 1.0362 -0.3018 391.09 328.78)" font-size="12" font-weight="normal" font-style="normal" text-anchor="middle" fill="#000" textLength="132" lengthAdjust="spacingAndGlyphs" stroke="#000" stroke-width="0.3">Ind. Particle Number N<tspan font-size="7.5" dy="1.5">ind</tspan><tspan dy="-1.5">(t)</tspan></text></g>
<g><path d="M404.7,9.3 L404.7,11.9 M421.6,14.9 L421.6,17.5 M438.6,20.6 L438.6,23.2 M455.8,26.3 L455.8,30.8 M473.1,32.1 L473.1,34.7 M490.6,37.9 L490.6,40.5 M508.3,43.8 L508.3,46.4 M526.1,49.7 L526.1,52.3 M544.1,55.7 L544.1,60.2 M562.3,61.8 L562.3,64.4 M580.6,67.9 L580.6,70.5 M599.2,74.0 L599.1,76.6 M617.8,80.2 L617.8,82.8 M636.7,86.5 L636.6,91.0 M655.8,92.9 L655.7,95.5 M675.0,99.3 L675.0,101.9 M694.4,105.7 L694.4,108.3 M714.0,112.3 L714.0,114.9 M733.8,118.9 L733.7,123.4 M340.2,461.7 L340.2,457.2 M360.9,455.2 L360.9,452.6 M381.5,448.7 L381.5,446.1 M401.9,442.3 L401.8,439.7 M422.1,435.9 L422.1,433.3 M442.2,429.5 L442.2,425.0 M462.1,423.2 L462.1,420.6 M481.9,417.0 L481.9,414.4 M501.5,410.8 L501.5,408.2 M521.0,404.6 L521.0,402.0 M540.3,398.5 L540.4,394.0 M559.5,392.5 L559.5,389.9 M578.6,386.5 L578.6,383.9 M597.5,380.5 L597.5,377.9 M616.3,374.6 L616.3,372.0 M634.9,368.7 L635.0,364.2 M653.4,362.8 L653.4,360.2 M671.8,357.0 L671.8,354.4 M690.0,351.3 L690.0,348.7 M708.1,345.6 L708.2,343.0 M726.1,339.9 L726.2,335.4 M736.5,318.9 L733.9,318.6 M736.9,299.8 L734.3,299.6 M737.4,280.8 L734.8,280.5 M737.8,261.6 L735.2,261.3 M738.2,242.4 L733.8,242.0 M738.7,223.2 L736.1,222.9 M739.1,203.9 L736.5,203.6 M739.6,184.5 L737.0,184.3 M740.0,165.1 L737.4,164.9 M740.5,145.6 L736.0,145.3 M740.9,126.1 L738.3,125.9" stroke="#000" stroke-width="1.0" fill="none"/></g><g opacity="0.999"><text x="455.8" y="12.3" font-size="14.2" font-weight="bold" text-anchor="middle" >1</text>
<text x="544.1" y="41.7" font-size="14.2" font-weight="bold" text-anchor="middle" >2</text>
<text x="636.7" y="72.5" font-size="14.2" font-weight="bold" text-anchor="middle" >3</text>
<text x="733.8" y="104.9" font-size="14.2" font-weight="bold" text-anchor="middle" >4</text>
<text x="340.2" y="484.7" font-size="14.2" font-weight="bold" text-anchor="middle" >0</text>
<text x="442.2" y="452.5" font-size="14.2" font-weight="bold" text-anchor="middle" >50</text>
<text x="540.3" y="421.5" font-size="14.2" font-weight="bold" text-anchor="middle" >100</text>
<text x="634.9" y="391.7" font-size="14.2" font-weight="bold" text-anchor="middle" >150</text>
<text x="726.1" y="362.9" font-size="14.2" font-weight="bold" text-anchor="middle" >200</text>
<text x="753.4" y="155.7" font-size="14.2" font-weight="bold" text-anchor="middle" >0</text>
<text x="755.0" y="253.0" font-size="14.2" font-weight="bold" text-anchor="middle" >−5</text>
<text x="700.0" y="44.0" font-size="14.2" font-weight="bold" text-anchor="middle" >Orbital Field <tspan font-style="italic">H</tspan>[T]</text>
<text x="579.8" y="453.4" font-size="14.2" font-weight="bold" text-anchor="middle" >Length <tspan font-style="italic">L</tspan><tspan font-style="italic" font-size="11" dy="3">y</tspan><tspan dy="-3"> [nm]</tspan></text>
<text id="rlabel" transform="translate(780.6,101.5) rotate(90)" font-size="14.5" font-weight="bold" text-anchor="start">Ind. Number Density <tspan font-style="italic">n</tspan><tspan font-size="6.8" dy="2.5">ind</tspan><tspan dy="-2.5" font-size="16">(</tspan><tspan>x</tspan><tspan font-size="16">,</tspan>t<tspan font-size="16">)</tspan> <tspan font-size="17">[</tspan><tspan font-size="15.5">10</tspan><tspan font-size="10.5" dy="-6">11</tspan><tspan dy="6" font-size="15.5">/cm</tspan><tspan font-size="10.5" dy="-6">2</tspan><tspan dy="6" font-size="17">]</tspan></text>
<path transform="translate(780.6,101.5) rotate(90)" d="M170,-11.6 L180.6,-11.6 M177.2,-14.4 L181.2,-11.6 L177.2,-8.8" fill="none" stroke="#000" stroke-width="1.3" stroke-linejoin="miter"/></g>
</svg></body></html>
